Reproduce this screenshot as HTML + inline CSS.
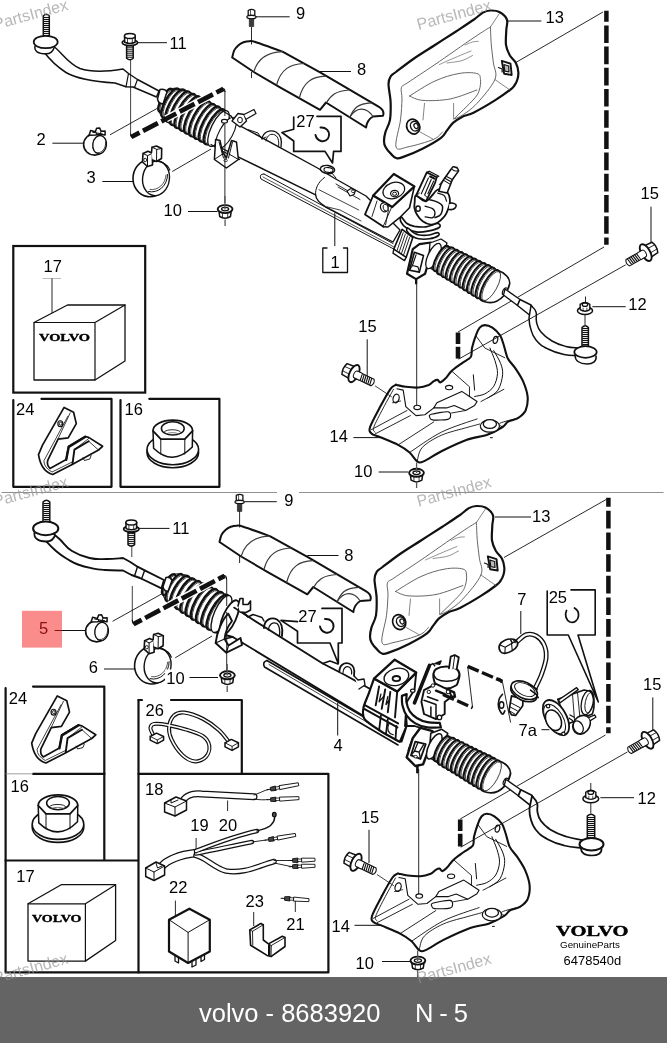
<!DOCTYPE html>
<html><head><meta charset="utf-8">
<style>
html,body{margin:0;padding:0;background:#fff;}
body{width:667px;height:1043px;overflow:hidden;position:relative;font-family:"Liberation Sans",sans-serif;}
#dia{will-change:transform;position:absolute;left:0;top:0;width:667px;height:977px;display:block;}
#bar{will-change:transform;position:absolute;left:0;top:977px;width:667px;height:66px;background:#646464;color:#fff;}
#bar span{position:absolute;top:21.7px;font-size:25.5px;line-height:28px;white-space:pre;letter-spacing:0;}
#wm{position:absolute;left:0;top:0;width:667px;height:1043px;display:block;pointer-events:none;}
svg text{font-family:"Liberation Sans",sans-serif;}
</style></head><body>
<svg id="dia" width="667" height="977" viewBox="0 0 667 977">
<!--DEFS-->
<!--TOP-->
<path d="M232.2,57.5 C232.5,56.3 233.2,52.4 234.2,50.4 C235.2,48.4 236.6,46.8 238.2,45.4 C239.8,44.0 241.6,43.0 243.5,42.3 C245.4,41.6 247.4,41.2 249.5,41.2 C251.6,41.2 250.5,40.5 256.0,42.2 C261.5,43.9 278.1,50.0 282.5,51.6 L321,72.8 L378.5,106.7 Q385,110.5 383,115.7 L373,116.5 Q367,120 366,127.5 L326,102.5 L320,109.8 L280,87.3 L253.8,72 L232.2,57.5Z" stroke="#111" stroke-width="2.0" fill="#fff" stroke-linecap="round" stroke-linejoin="round" />
<path d="M282.5,51.6 C268.5,52.1 257.8,57.6 253.8,72" stroke="#3a3a3a" stroke-width="1.2" fill="none" stroke-linecap="round" stroke-linejoin="round" />
<path d="M304,63.5 C290,64.0 280.6,69.5 276.6,85" stroke="#3a3a3a" stroke-width="1.2" fill="none" stroke-linecap="round" stroke-linejoin="round" />
<path d="M325.7,76.2 C311.7,76.7 303.3,82.2 299.3,98" stroke="#3a3a3a" stroke-width="1.2" fill="none" stroke-linecap="round" stroke-linejoin="round" />
<path d="M349.7,90 C335.7,90.5 330.3,96 326.3,103" stroke="#3a3a3a" stroke-width="1.2" fill="none" stroke-linecap="round" stroke-linejoin="round" />
<path d="M371.3,102.8 C357.3,103.3 353.7,108.8 349.7,117.3" stroke="#3a3a3a" stroke-width="1.2" fill="none" stroke-linecap="round" stroke-linejoin="round" />
<path d="M373,116.5 C366,106 356,107 349.7,117.3" stroke="#3a3a3a" stroke-width="1.1" fill="none" stroke-linecap="round" stroke-linejoin="round" />
<path d="M490.4,10.5 C493.2,10.4 496.7,10.5 499.4,12.0 C502.2,13.5 505.8,16.5 506.9,19.5 C508.1,22.5 506.5,25.7 506.3,30.0 C506.2,34.2 505.4,40.7 506.0,45.0 C506.6,49.2 508.3,52.5 509.9,55.5 C511.6,58.5 514.5,60.2 515.9,63.0 C517.3,65.7 518.1,69.2 518.3,72.0 C518.6,74.7 518.1,77.2 517.4,79.5 C516.8,81.7 515.7,83.7 514.4,85.5 C513.2,87.2 513.2,87.5 509.9,90.0 C506.7,92.5 500.9,96.7 494.9,100.4 C488.9,104.2 479.4,109.7 474.0,112.4 C468.5,115.2 465.5,115.2 462.0,116.9 C458.5,118.7 455.5,120.7 453.0,122.9 C450.5,125.2 449.0,127.9 447.0,130.4 C445.0,132.9 445.0,134.9 441.0,137.9 C437.0,140.9 429.5,145.2 423.0,148.4 C416.5,151.7 406.5,155.8 402.0,157.4 C397.5,159.0 397.7,158.5 396.0,158.0 C394.2,157.5 393.2,156.3 391.5,154.4 C389.7,152.6 386.7,149.2 385.5,146.9 C384.2,144.7 384.0,143.4 384.0,140.9 C384.0,138.4 384.5,135.4 385.5,131.9 C386.5,128.4 389.1,124.9 390.0,119.9 C390.8,114.9 390.8,107.9 390.6,101.9 C390.3,96.0 388.5,88.2 388.5,84.0 C388.5,79.7 389.3,78.5 390.6,76.5 C391.8,74.5 392.1,75.0 396.0,72.0 C399.9,69.0 407.5,63.0 414.0,58.5 C420.5,54.0 428.0,49.5 435.0,45.0 C442.0,40.5 449.5,35.7 456.0,31.5 C462.5,27.2 469.5,22.6 474.0,19.5 C478.4,16.3 480.2,14.1 482.9,12.6 C485.7,11.1 487.7,10.6 490.4,10.5Z" stroke="#111" stroke-width="2.2" fill="#fff" stroke-linecap="round" stroke-linejoin="round" />
<path d="M490.4,27.0 C490.6,30.0 490.8,39.0 491.3,45.0 C491.8,51.0 492.8,57.2 493.4,63.0 C494.0,68.7 497.7,72.7 494.9,79.5 C492.2,86.2 482.4,97.5 476.9,103.4 C471.5,109.4 465.9,112.8 462.0,115.4 C458.1,118.0 455.0,118.4 453.6,119.0" stroke="#555" stroke-width="0.9" fill="none" stroke-linecap="round" stroke-linejoin="round" />
<path d="M490.4,27.0 C487.7,28.7 483.2,31.2 474.0,37.5 C464.7,43.7 446.0,57.0 435.0,64.5 C424.0,72.0 413.6,78.6 408.0,82.5 C402.4,86.3 402.4,84.8 401.4,87.6 C400.4,90.3 402.1,93.6 402.0,99.0 C401.8,104.3 401.5,111.9 400.5,119.9 C399.5,127.9 394.7,142.4 396.0,146.9 C397.2,151.4 401.7,148.2 408.0,146.9 C414.2,145.7 427.7,141.9 433.5,139.4 C439.2,136.9 441.0,133.2 442.5,131.9" stroke="#555" stroke-width="0.9" fill="none" stroke-linecap="round" stroke-linejoin="round" />
<path d="M409.5,96.0 C413.7,93.5 426.7,84.7 435.0,81.0 C443.2,77.2 452.0,74.7 459.0,73.5 C466.0,72.2 473.4,72.5 476.9,73.5 C480.5,74.5 480.1,76.7 480.5,79.5 C480.9,82.2 480.4,86.7 479.3,90.0 C478.2,93.2 478.1,94.2 474.0,99.0 C469.8,103.7 457.7,115.2 454.5,118.4" stroke="#555" stroke-width="0.9" fill="none" stroke-linecap="round" stroke-linejoin="round" />
<path d="M409.5,96.0 C411.7,96.7 416.2,100.0 423.0,100.4 C429.7,100.9 441.0,100.7 450.0,99.0 C459.0,97.2 472.5,91.5 476.9,90.0" stroke="#555" stroke-width="0.9" fill="none" stroke-linecap="round" stroke-linejoin="round" />
<path d="M439.5,64.5 C441.7,63.5 447.7,60.7 453.0,58.5 C458.2,56.2 468.0,52.2 471.0,51.0" stroke="#777" stroke-width="0.8" fill="none" stroke-linecap="round" stroke-linejoin="round" />
<path d="M447.0,63.0 C449.5,62.6 457.7,61.8 462.0,60.6 C466.2,59.3 470.7,56.3 472.5,55.5" stroke="#777" stroke-width="0.8" fill="none" stroke-linecap="round" stroke-linejoin="round" />
<path d="M465.0,45.0 C466.2,44.5 470.2,42.6 472.5,42.0 C474.7,41.4 477.4,41.5 478.4,41.4" stroke="#777" stroke-width="0.8" fill="none" stroke-linecap="round" stroke-linejoin="round" />
<path d="M424.5,103.4 L423.0,119.9M453.6,103.4 L453.6,118.4M420.0,131.9 L433.5,139.4M494.9,79.5 L509.9,90.0M490.4,27.0 L499.4,13.5" stroke="#666" stroke-width="0.8" fill="none" stroke-linecap="round" stroke-linejoin="round" />
<path d="M501.8,60.9 L510.5,63.6 L511.7,75.0 L504.2,73.8Z" stroke="#111" stroke-width="1.9" fill="#fff" stroke-linecap="round" stroke-linejoin="round" />
<path d="M503.9,64.5 L508.7,66.0 L509.0,72.0 L504.8,71.1Z" stroke="#111" stroke-width="1.2" fill="#bbb" stroke-linecap="round" stroke-linejoin="round" />
<path d="M498.5,67.5 L502.1,69.0 L502.1,72.0" stroke="#111" stroke-width="1.2" fill="none" stroke-linecap="round" stroke-linejoin="round" />
<ellipse cx="413.2" cy="126.6" rx="6.4" ry="7.6" stroke="#111" stroke-width="1.7" fill="#fff" transform="rotate(-25 413.2 126.6)" />
<ellipse cx="414.8" cy="126.2" rx="4.2" ry="5" stroke="#111" stroke-width="1.4" fill="#fff" transform="rotate(-25 414.8 126.2)" />
<ellipse cx="416" cy="126" rx="2" ry="2.6" stroke="#111" stroke-width="1.2" fill="#fff" transform="rotate(-25 416 126)" />
<path d="M248.2,15.5 L248.2,10.5 Q251.5,8.3 254.8,10.5 L254.8,15.5Z" stroke="#111" stroke-width="1.3" fill="#fff" stroke-linecap="round" stroke-linejoin="round" />
<line x1="250.5" y1="9.8" x2="250.5" y2="15.5" stroke="#111" stroke-width="0.7" />
<ellipse cx="251.5" cy="17.1" rx="4.6" ry="1.7" stroke="#111" stroke-width="1.3" fill="#fff" />
<path d="M249.3,19.0 L249.3,26.5 L253.7,26.5 L253.7,19.0Z" stroke="#111" stroke-width="0.6" fill="#3a3a3a" stroke-linecap="round" stroke-linejoin="round" />
<line x1="251.5" y1="27" x2="251.5" y2="44.5" stroke="#111" stroke-width="0.9" />
<line x1="251.5" y1="72" x2="251.5" y2="78" stroke="#111" stroke-width="0.9" />
<line x1="256" y1="16.8" x2="289.7" y2="16.8" stroke="#111" stroke-width="1" />
<text x="296" y="18.9" font-size="16.5" text-anchor="start" fill="#000" >9</text>
<line x1="319.7" y1="71.5" x2="351" y2="71.5" stroke="#111" stroke-width="1" />
<text x="357" y="74.6" font-size="16.5" text-anchor="start" fill="#000" >8</text>
<line x1="507" y1="21" x2="541.4" y2="21" stroke="#111" stroke-width="1" />
<text x="545.5" y="22.7" font-size="16.5" text-anchor="start" fill="#000" >13</text>
<line x1="516" y1="62.4" x2="603" y2="12" stroke="#111" stroke-width="0.9" />
<line x1="606.4" y1="10.8" x2="606.4" y2="244.8" stroke="#111" stroke-width="4.5" stroke-dasharray="17.6 3.6" stroke-dashoffset="6.6"/>
<line x1="604" y1="247" x2="458" y2="332" stroke="#111" stroke-width="0.9" />
<path d="M43.3,36 L43.3,16 Q46.3,12.5 49.3,16 L49.3,36 Z" stroke="#111" stroke-width="1.5" fill="#fff" stroke-linecap="round" stroke-linejoin="round" />
<line x1="43.599999999999994" y1="17.5" x2="49.0" y2="17.5" stroke="#111" stroke-width="1.1" />
<line x1="43.599999999999994" y1="19.5" x2="49.0" y2="19.5" stroke="#111" stroke-width="1.1" />
<line x1="43.599999999999994" y1="21.5" x2="49.0" y2="21.5" stroke="#111" stroke-width="1.1" />
<line x1="43.599999999999994" y1="23.5" x2="49.0" y2="23.5" stroke="#111" stroke-width="1.1" />
<line x1="43.599999999999994" y1="25.5" x2="49.0" y2="25.5" stroke="#111" stroke-width="1.1" />
<line x1="43.599999999999994" y1="27.5" x2="49.0" y2="27.5" stroke="#111" stroke-width="1.1" />
<line x1="43.599999999999994" y1="29.5" x2="49.0" y2="29.5" stroke="#111" stroke-width="1.1" />
<line x1="43.599999999999994" y1="31.5" x2="49.0" y2="31.5" stroke="#111" stroke-width="1.1" />
<line x1="43.599999999999994" y1="33.5" x2="49.0" y2="33.5" stroke="#111" stroke-width="1.1" />
<line x1="43.599999999999994" y1="35.5" x2="49.0" y2="35.5" stroke="#111" stroke-width="1.1" />
<path d="M52,45 C61,51 67,63 80,68.5 C92,72.5 108,71.5 123,69 L128.5,73.5 L137.5,79.5 L159,91 L156.5,97 L133,87 L126,86.8 L115,83 C96,81.8 78,79.5 66,72.5 C56,66 50,60 44,52 Z" stroke="#111" stroke-width="1.5" fill="#fff" stroke-linecap="round" stroke-linejoin="round" />
<path d="M128.5,73.5 L126,86.8 M137.5,79.5 L134.5,87.5" stroke="#111" stroke-width="1.2" fill="none" stroke-linecap="round" stroke-linejoin="round" />
<path d="M35,46 C34,51 38,53.8 46,53.8 C50,53.8 53,51 54,48" stroke="#111" stroke-width="1.5" fill="#fff" stroke-linecap="round" stroke-linejoin="round" />
<ellipse cx="45.7" cy="42" rx="12" ry="6.2" stroke="#111" stroke-width="1.7" fill="#fff" />
<ellipse cx="129.9" cy="42.6" rx="7.7" ry="3.0" stroke="#111" stroke-width="1.7" fill="#fff" />
<path d="M124.5,36.1 L124.7,42.2 Q129.9,44.6 135.1,42.2 L135.3,36.1Z" stroke="#111" stroke-width="1.5" fill="#fff" stroke-linecap="round" stroke-linejoin="round" />
<ellipse cx="129.9" cy="36.1" rx="5.4" ry="2.5" stroke="#111" stroke-width="1.5" fill="#fff" />
<line x1="127.5" y1="38.6" x2="127.5" y2="43.2" stroke="#111" stroke-width="0.8" />
<line x1="132.3" y1="38.6" x2="132.3" y2="43.2" stroke="#111" stroke-width="0.8" />
<path d="M126.60000000000001,45.800000000000004 L126.60000000000001,58.2 Q129.9,61.2 133.20000000000002,58.2 L133.20000000000002,45.800000000000004Z" stroke="#111" stroke-width="1.5" fill="#fff" stroke-linecap="round" stroke-linejoin="round" />
<line x1="126.7" y1="47.2" x2="133.1" y2="47.2" stroke="#111" stroke-width="1.0" />
<line x1="126.7" y1="49.2" x2="133.1" y2="49.2" stroke="#111" stroke-width="1.0" />
<line x1="126.7" y1="51.2" x2="133.1" y2="51.2" stroke="#111" stroke-width="1.0" />
<line x1="126.7" y1="53.2" x2="133.1" y2="53.2" stroke="#111" stroke-width="1.0" />
<line x1="126.7" y1="55.2" x2="133.1" y2="55.2" stroke="#111" stroke-width="1.0" />
<line x1="126.7" y1="57.2" x2="133.1" y2="57.2" stroke="#111" stroke-width="1.0" />
<line x1="130.6" y1="59" x2="130.6" y2="134" stroke="#111" stroke-width="0.8" />
<line x1="138" y1="42.7" x2="167" y2="42.7" stroke="#111" stroke-width="1" />
<text x="169.5" y="48.8" font-size="16.5" text-anchor="start" fill="#000" >11</text>
<path d="M264,174 Q258.5,174 261,179 L395.6,250" stroke="#111" stroke-width="1.0" fill="none" stroke-linecap="round" stroke-linejoin="round" />
<path d="M264,174 L393,243.5" stroke="#111" stroke-width="1.0" fill="none" stroke-linecap="round" stroke-linejoin="round" />
<path d="M263,177 L394,247" stroke="#111" stroke-width="0.7" fill="none" stroke-linecap="round" stroke-linejoin="round" />
<path d="M222,112 L236,123.6 L317.5,168 L334,178 L366,196 L400,230 L393,242 L325.6,206.8 Q316,201 315.6,194.8 L237.6,156.6 L212,143Z" stroke="#111" stroke-width="1.4" fill="#fff" stroke-linecap="round" stroke-linejoin="round" />
<path d="M167.7,90.2 L169.8,89.5 L171.9,88.9 L174.0,88.2 L175.7,88.3 L177.3,88.6 L178.9,88.9 L180.5,89.1 L182.1,89.4 L183.7,89.7 L185.3,90.0 L186.6,90.6 L188.0,91.3 L189.4,91.9 L190.8,92.6 L192.2,93.3 L193.6,93.9 L194.9,94.6 L196.3,95.2 L197.7,95.9 L199.1,96.6 L200.5,97.2 L201.9,97.9 L203.2,98.6 L204.6,99.2 L206.0,99.9 L207.3,100.7 L208.7,101.4 L210.0,102.1 L211.4,102.8 L212.7,103.6 L214.1,104.3 L215.4,105.0 L216.8,105.7 L218.1,106.5 L219.5,107.2 L220.8,107.9 L222.2,108.6 L223.5,109.4 L224.9,110.1 L226.2,110.8 L207.8,145.2 L206.4,144.5 L205.1,143.7 L203.7,143.0 L202.4,142.3 L201.0,141.6 L199.7,140.8 L198.3,140.1 L197.0,139.4 L195.6,138.7 L194.3,137.9 L192.9,137.2 L191.6,136.5 L190.2,135.8 L188.9,135.0 L187.5,134.3 L186.2,133.6 L184.9,132.8 L183.5,132.0 L182.2,131.2 L180.9,130.4 L179.6,129.6 L178.3,128.9 L177.0,128.1 L175.6,127.3 L174.3,126.5 L173.0,125.7 L171.7,124.9 L170.4,124.1 L169.1,123.3 L167.7,122.5 L166.6,121.4 L165.5,120.2 L164.4,119.0 L163.3,117.8 L162.2,116.7 L161.1,115.5 L160.1,114.1 L159.5,112.0 L158.9,109.9 L158.3,107.8Z" stroke="#111" stroke-width="1.0" fill="#fff" stroke-linecap="round" stroke-linejoin="round" />
<g transform="rotate(28.2 165.5 100.3)"><ellipse cx="165.5" cy="100.3" rx="4.4" ry="12.8" stroke="#111" stroke-width="2.4" fill="#fff"/><ellipse cx="167.1" cy="100.3" rx="4.4" ry="12.0" stroke="#111" stroke-width="0.7" fill="#fff"/></g>
<g transform="rotate(28.2 170.4 103.0)"><ellipse cx="170.4" cy="103.0" rx="5.5" ry="16.2" stroke="#111" stroke-width="2.4" fill="#fff"/><ellipse cx="172.0" cy="103.0" rx="5.5" ry="15.4" stroke="#111" stroke-width="0.7" fill="#fff"/></g>
<g transform="rotate(28.2 175.3 105.6)"><ellipse cx="175.3" cy="105.6" rx="6.1" ry="18.0" stroke="#111" stroke-width="2.4" fill="#fff"/><ellipse cx="176.9" cy="105.6" rx="6.1" ry="17.2" stroke="#111" stroke-width="0.7" fill="#fff"/></g>
<g transform="rotate(28.2 180.2 108.2)"><ellipse cx="180.2" cy="108.2" rx="6.4" ry="18.7" stroke="#111" stroke-width="2.4" fill="#fff"/><ellipse cx="181.8" cy="108.2" rx="6.4" ry="17.9" stroke="#111" stroke-width="0.7" fill="#fff"/></g>
<g transform="rotate(28.2 185.1 110.9)"><ellipse cx="185.1" cy="110.9" rx="6.4" ry="19.0" stroke="#111" stroke-width="2.4" fill="#fff"/><ellipse cx="186.7" cy="110.9" rx="6.4" ry="18.2" stroke="#111" stroke-width="0.7" fill="#fff"/></g>
<g transform="rotate(28.2 190.0 113.5)"><ellipse cx="190.0" cy="113.5" rx="6.5" ry="19.2" stroke="#111" stroke-width="2.4" fill="#fff"/><ellipse cx="191.6" cy="113.5" rx="6.5" ry="18.4" stroke="#111" stroke-width="0.7" fill="#fff"/></g>
<g transform="rotate(28.2 194.9 116.1)"><ellipse cx="194.9" cy="116.1" rx="6.6" ry="19.5" stroke="#111" stroke-width="2.4" fill="#fff"/><ellipse cx="196.5" cy="116.1" rx="6.6" ry="18.7" stroke="#111" stroke-width="0.7" fill="#fff"/></g>
<g transform="rotate(28.2 199.8 118.8)"><ellipse cx="199.8" cy="118.8" rx="6.6" ry="19.5" stroke="#111" stroke-width="2.4" fill="#fff"/><ellipse cx="201.4" cy="118.8" rx="6.6" ry="18.7" stroke="#111" stroke-width="0.7" fill="#fff"/></g>
<g transform="rotate(28.2 204.7 121.4)"><ellipse cx="204.7" cy="121.4" rx="6.6" ry="19.5" stroke="#111" stroke-width="2.4" fill="#fff"/><ellipse cx="206.3" cy="121.4" rx="6.6" ry="18.7" stroke="#111" stroke-width="0.7" fill="#fff"/></g>
<g transform="rotate(28.2 209.6 124.0)"><ellipse cx="209.6" cy="124.0" rx="6.6" ry="19.5" stroke="#111" stroke-width="2.4" fill="#fff"/><ellipse cx="211.2" cy="124.0" rx="6.6" ry="18.7" stroke="#111" stroke-width="0.7" fill="#fff"/></g>
<g transform="rotate(28.2 214.5 126.7)"><ellipse cx="214.5" cy="126.7" rx="6.6" ry="19.5" stroke="#111" stroke-width="2.4" fill="#fff"/><ellipse cx="216.1" cy="126.7" rx="6.6" ry="18.7" stroke="#111" stroke-width="0.7" fill="#fff"/></g>
<path d="M160,89.5 Q165,88.5 167,92 L163,104 Q158.5,104 157.5,99Z" stroke="#111" stroke-width="1.5" fill="#fff" stroke-linecap="round" stroke-linejoin="round" />
<ellipse cx="218.5" cy="128.5" rx="7.2" ry="19.6" stroke="#111" stroke-width="1.3" fill="#fff" transform="rotate(26 218.5 128.5)" />
<path d="M222,110.5 L231,116 M211,144.5 L222,151" stroke="#111" stroke-width="1.2" fill="none" stroke-linecap="round" stroke-linejoin="round" />
<ellipse cx="226" cy="133" rx="6.8" ry="17.6" stroke="#111" stroke-width="1.1" fill="#fff" transform="rotate(29 226 133)" />
<path d="M231,116 L236,123.6 M222,151 L239.6,159.5" stroke="#111" stroke-width="1.2" fill="none" stroke-linecap="round" stroke-linejoin="round" />
<path d="M215.6,139.5 L214.4,159.5 L226.4,168 L238.4,159.5 L236.5,142 L231.5,140.5 L228,152 L226.4,158 L222.5,152 L220,140.5Z" stroke="#111" stroke-width="1.5" fill="#fff" stroke-linecap="round" stroke-linejoin="round" />
<path d="M214.4,159.5 L222.5,154 M238.4,159.5 L229,154 M219,142 L223.5,158 M232.5,142 L228.5,158" stroke="#111" stroke-width="1.0" fill="none" stroke-linecap="round" stroke-linejoin="round" />
<ellipse cx="225.6" cy="160.5" rx="1.7" ry="1.2" stroke="#111" stroke-width="0.8" fill="#fff" />
<ellipse cx="224.5" cy="121.2" rx="3" ry="1.8" stroke="#111" stroke-width="1.2" fill="#fff" />
<path d="M232,121 L238,113.5 L244,114.5 L246.5,121 L240,127 Z" stroke="#111" stroke-width="1.3" fill="#fff" stroke-linecap="round" stroke-linejoin="round" />
<ellipse cx="240" cy="120" rx="2.4" ry="2.8" stroke="#111" stroke-width="1.0" fill="#fff" />
<path d="M244,114.5 L254,109.5 L256,113.5 L246.5,119" stroke="#111" stroke-width="1.2" fill="#fff" stroke-linecap="round" stroke-linejoin="round" />
<path d="M262,139 C263,132 270,129 276,132 C281,135 282,141 281,147" stroke="#111" stroke-width="1.3" fill="none" stroke-linecap="round" stroke-linejoin="round" />
<path d="M266,141 C267,135 271,133 275,135 C279,137 279,143 278.5,147" stroke="#111" stroke-width="1.0" fill="none" stroke-linecap="round" stroke-linejoin="round" />
<path d="M248,129.6 L258,133 L262,139 L266,137" stroke="#111" stroke-width="1.0" fill="none" stroke-linecap="round" stroke-linejoin="round" />
<path d="M324.5,177.5 C318,182 315,189 315.6,194.8" stroke="#111" stroke-width="1.0" fill="none" stroke-linecap="round" stroke-linejoin="round" />
<path d="M319,189.7 L358.7,210" stroke="#111" stroke-width="0.8" fill="none" stroke-linecap="round" stroke-linejoin="round" />
<path d="M326.8,206.8 L340,210 L361,221" stroke="#111" stroke-width="0.8" fill="none" stroke-linecap="round" stroke-linejoin="round" />
<ellipse cx="327.5" cy="169.5" rx="7.2" ry="4" stroke="#111" stroke-width="1.4" fill="#fff" transform="rotate(8 327.5 169.5)" />
<ellipse cx="328.5" cy="170" rx="4.6" ry="2.4" stroke="#111" stroke-width="1.1" fill="#fff" transform="rotate(8 328.5 170)" />
<path d="M331,172 L336,178" stroke="#111" stroke-width="1.0" fill="none" stroke-linecap="round" stroke-linejoin="round" />
<path d="M336,184 L349,191.5 M338,187 L360,199.5" stroke="#111" stroke-width="0.9" fill="none" stroke-linecap="round" stroke-linejoin="round" />
<path d="M347,191 L351,188.5 L355.5,190.5 L354,194.5 L350,196Z" stroke="#111" stroke-width="1.2" fill="#fff" stroke-linecap="round" stroke-linejoin="round" />
<ellipse cx="353" cy="191.3" rx="1.6" ry="1.3" stroke="#111" stroke-width="0.8" fill="#fff" />
<path d="M373.2,195.5 L365,214.4 L383.5,226.8 L392.2,207Z" stroke="#111" stroke-width="1.8" fill="#fff" stroke-linecap="round" stroke-linejoin="round" />
<path d="M392.2,207 L414.4,186.4 L409.5,207.8 L399.6,217.7 L388,227 L383.5,226.8" stroke="#111" stroke-width="1.6" fill="#fff" stroke-linecap="round" stroke-linejoin="round" />
<path d="M373.2,195.5 L393.8,174 L414.4,186.4 L392.2,207Z" stroke="#111" stroke-width="2.2" fill="#fff" stroke-linecap="round" stroke-linejoin="round" />
<ellipse cx="393.8" cy="190.5" rx="11.2" ry="7.8" stroke="#111" stroke-width="1.2" fill="#fff" transform="rotate(-20 393.8 190.5)" />
<ellipse cx="394.6" cy="193.6" rx="4" ry="3.2" stroke="#111" stroke-width="1.2" fill="#fff" />
<ellipse cx="394.6" cy="193.8" rx="2" ry="1.6" stroke="#111" stroke-width="1.0" fill="#fff" />
<ellipse cx="384.3" cy="207.2" rx="3.8" ry="4.6" stroke="#111" stroke-width="1.3" fill="#fff" transform="rotate(-15 384.3 207.2)" />
<ellipse cx="385.6" cy="207.6" rx="2.4" ry="3.4" stroke="#111" stroke-width="0.9" fill="#fff" transform="rotate(-15 385.6 207.6)" />
<path d="M377,201 L372,216.5 M388.5,210 L385.5,225" stroke="#111" stroke-width="0.9" fill="none" stroke-linecap="round" stroke-linejoin="round" />
<path d="M402.1,229.3 L412.8,237.5 L406.2,257.3 L393.8,249.1Z" stroke="#111" stroke-width="1.6" fill="#fff" stroke-linecap="round" stroke-linejoin="round" />
<path d="M403.2,232.6 L397.1,250.4" stroke="#111" stroke-width="0.9" fill="none" stroke-linecap="round" stroke-linejoin="round" />
<path d="M405.3,234.2 L399.2,252.0" stroke="#111" stroke-width="0.9" fill="none" stroke-linecap="round" stroke-linejoin="round" />
<path d="M407.5,235.9 L401.4,253.7" stroke="#111" stroke-width="0.9" fill="none" stroke-linecap="round" stroke-linejoin="round" />
<path d="M409.6,237.5 L403.5,255.3" stroke="#111" stroke-width="0.9" fill="none" stroke-linecap="round" stroke-linejoin="round" />
<path d="M393.8,249.1 L393.0,253.2 L404.5,260.6 L406.2,257.3" stroke="#111" stroke-width="1.4" fill="none" stroke-linecap="round" stroke-linejoin="round" />
<path d="M401.2,216.9 C402.2,217.2 404.8,221.9 407.0,223.5 C409.2,225.1 411.3,225.7 414.4,226.3 C417.6,226.8 422.1,227.3 426.0,226.8 C429.8,226.3 435.3,223.4 437.5,223.5 C439.8,223.6 441.1,226.0 439.5,227.3 C437.8,228.6 431.5,230.5 427.6,231.2 C423.7,232.0 419.5,232.4 416.1,231.9 C412.6,231.4 409.5,230.1 407.0,228.4 C404.5,226.8 401.9,223.8 400.9,221.8 C399.9,219.9 400.2,216.6 401.2,216.9Z" stroke="#111" stroke-width="1.7" fill="#fff" stroke-linecap="round" stroke-linejoin="round" />
<path d="M407.8,227.9 C408.9,228.2 411.7,231.4 413.6,232.6 C415.5,233.7 416.8,234.6 419.4,235.0 C422.0,235.4 426.2,235.4 429.3,235.0 C432.3,234.6 436.0,232.5 437.5,232.6 C439.0,232.6 439.9,234.5 438.5,235.5 C437.1,236.6 432.6,238.3 429.3,238.8 C425.9,239.4 421.4,239.3 418.5,238.8 C415.7,238.3 413.9,237.1 411.9,235.9 C410.0,234.6 407.7,232.6 407.0,231.2 C406.3,229.9 406.7,227.7 407.8,227.9Z" stroke="#111" stroke-width="1.6" fill="#fff" stroke-linecap="round" stroke-linejoin="round" />
<path d="M416.1,195.5 C414.2,195.6 415.0,200.0 414.7,202.1 C414.5,204.1 414.1,205.8 414.4,207.8 C414.8,209.9 415.5,212.2 416.9,214.4 C418.3,216.7 420.3,219.6 422.7,221.3 C425.0,223.0 428.4,224.4 430.9,224.6 C433.4,224.9 435.4,223.8 437.5,222.7 C439.6,221.5 441.8,219.4 443.3,217.7 C444.8,216.1 445.5,215.2 446.6,212.8 C447.7,210.3 449.5,205.8 449.9,202.9 C450.3,200.0 449.7,197.4 449.1,195.5 C448.4,193.5 447.7,192.0 445.8,191.0 C443.8,190.0 440.8,188.0 437.5,189.7 C434.2,191.4 429.5,200.3 426.0,201.2 C422.4,202.2 417.9,195.3 416.1,195.5Z" stroke="#111" stroke-width="1.8" fill="#fff" stroke-linecap="round" stroke-linejoin="round" />
<path d="M429.3,199.6 C430.6,200.0 435.3,201.0 437.5,202.1 C439.7,203.2 441.9,204.1 442.5,206.2 C443.0,208.2 442.0,212.5 440.8,214.4 C439.6,216.3 436.0,217.2 435.0,217.7" stroke="#111" stroke-width="1.5" fill="none" stroke-linecap="round" stroke-linejoin="round" />
<path d="M425.1,206.2 C426.4,206.6 430.9,207.5 432.6,208.6 C434.2,209.7 435.0,211.3 435.0,212.8 C435.0,214.3 434.2,217.0 432.6,217.7 C430.9,218.4 426.4,217.0 425.1,216.9" stroke="#111" stroke-width="1.3" fill="none" stroke-linecap="round" stroke-linejoin="round" />
<path d="M437.5,193.0 C438.6,193.4 442.6,194.1 444.1,195.5 C445.6,196.8 446.2,200.3 446.6,201.2" stroke="#111" stroke-width="1.2" fill="none" stroke-linecap="round" stroke-linejoin="round" />
<ellipse cx="418.0474934036939" cy="208.64775725593668" rx="2.2" ry="2.6" stroke="#111" stroke-width="1.4" fill="#fff" />
<path d="M449.5,203.2 C450.1,203.2 452.1,202.9 453.2,203.2 C454.2,203.5 455.6,204.1 456.0,204.9 C456.3,205.6 455.9,207.1 455.3,207.8 C454.7,208.6 453.4,209.2 452.3,209.5 C451.2,209.7 449.3,209.5 448.7,209.5" stroke="#111" stroke-width="1.6" fill="#fff" stroke-linecap="round" stroke-linejoin="round" />
<path d="M426.8,172.4 L436.7,177.3 L435.0,183.1 L426.0,201.2 L416.1,195.5Z" stroke="#111" stroke-width="1.8" fill="#fff" stroke-linecap="round" stroke-linejoin="round" />
<path d="M426.8,172.4 L429.3,171.2 L438.8,176.2 L436.7,177.3" stroke="#111" stroke-width="1.2" fill="none" stroke-linecap="round" stroke-linejoin="round" />
<path d="M428.4,178.1 L421.3,193.8M431.2,179.5 L424.6,195.0M433.7,181.1 L427.9,193.8" stroke="#111" stroke-width="1.1" fill="none" stroke-linecap="round" stroke-linejoin="round" />
<path d="M430.1,176.5 L434.5,178.6" stroke="#111" stroke-width="2.0" fill="none" stroke-linecap="round" stroke-linejoin="round" />
<path d="M416.9,195.5 L419.4,193.0M425.1,195.5 L426.8,197.1" stroke="#111" stroke-width="1.0" fill="none" stroke-linecap="round" stroke-linejoin="round" />
<path d="M439.2,184.7 L443.3,180.1 L445.8,176.5 L450.7,169.6 " stroke="#111" stroke-width="1.0" fill="none" stroke-linecap="round" stroke-linejoin="round" />
<path d="M438.8,191.3 L440.8,184.7 L443.3,180.1 L446.1,176.2 L451.0,169.2 L453.2,166.9 L457.0,167.6 L458.6,170.9 L452.3,179.8 L450.4,184.7 L447.1,193.0Z" stroke="#111" stroke-width="1.6" fill="#fff" stroke-linecap="round" stroke-linejoin="round" />
<path d="M443.3,180.1 L450.4,184.4M446.1,176.2 L452.7,179.8M444.4,178.1 L451.5,182.1" stroke="#111" stroke-width="1.1" fill="none" stroke-linecap="round" stroke-linejoin="round" />
<ellipse cx="454.98680738786277" cy="169.06992084432719" rx="3.2" ry="1.7" stroke="#111" stroke-width="1.0" fill="#fff" transform="rotate(20 454.98680738786277 169.06992084432719)" />
<path d="M412.8,249.1 L419.4,244.1 L430.9,242.5 L431.2,252.3 L425.1,273.8 L416.1,279.1 L407.0,273.8Z" stroke="#111" stroke-width="2.2" fill="#fff" stroke-linecap="round" stroke-linejoin="round" />
<path d="M414.4,252.3 L423.5,255.6 L419.4,272.1 L409.5,270.2Z" stroke="#111" stroke-width="1.6" fill="#fff" stroke-linecap="round" stroke-linejoin="round" />
<path d="M409.5,270.2 L412.4,265.5 L418.0,266.9 L419.4,272.1M412.4,265.5 L416.1,254.8" stroke="#111" stroke-width="1.1" fill="none" stroke-linecap="round" stroke-linejoin="round" />
<path d="M416.1,279.7 L416.1,283.4" stroke="#111" stroke-width="2.2" fill="none" stroke-linecap="round" stroke-linejoin="round" />
<path d="M430,243 L441,239 L447,243 L437,272 L428,267Z" stroke="#111" stroke-width="1.3" fill="#fff" stroke-linecap="round" stroke-linejoin="round" />
<ellipse cx="433.5" cy="256" rx="5.4" ry="13.8" stroke="#111" stroke-width="1.3" fill="#fff" transform="rotate(26 433.5 256)" />
<path d="M498,270.5 C505,272.5 510.5,278.5 509.6,284 C508.5,289.5 506,293 503.5,296 C499,301 492,304.5 483,301.2Z" stroke="#111" stroke-width="1.6" fill="#fff" stroke-linecap="round" stroke-linejoin="round" />
<path d="M445.5,245.5 L447.0,245.9 L448.5,246.3 L450.0,246.7 L451.5,247.1 L452.9,247.8 L454.2,248.4 L455.6,249.1 L457.0,249.8 L458.3,250.5 L459.7,251.1 L461.0,251.8 L462.4,252.5 L463.7,253.2 L465.1,253.8 L466.4,254.5 L467.8,255.2 L469.2,255.9 L470.5,256.5 L471.9,257.2 L473.2,257.9 L474.6,258.5 L476.0,259.2 L477.3,259.8 L478.7,260.5 L480.1,261.1 L481.4,261.8 L482.8,262.4 L484.2,263.1 L485.5,263.7 L486.9,264.4 L488.3,265.0 L489.7,265.7 L491.0,266.3 L492.4,267.0 L493.7,267.7 L495.0,268.5 L496.3,269.3 L497.6,270.1 L498.9,270.8 L500.2,271.6 L483.8,301.4 L482.4,300.7 L481.1,300.0 L479.7,299.3 L478.4,298.6 L477.1,298.0 L475.7,297.3 L474.4,296.5 L473.1,295.6 L471.9,294.8 L470.6,294.0 L469.3,293.2 L468.0,292.4 L466.7,291.6 L465.5,290.8 L464.2,290.0 L462.9,289.2 L461.6,288.3 L460.3,287.5 L459.1,286.7 L457.8,285.9 L456.5,285.1 L455.2,284.3 L453.9,283.6 L452.6,282.8 L451.3,282.0 L450.0,281.2 L448.7,280.4 L447.4,279.6 L446.1,278.9 L444.8,278.1 L443.5,277.3 L442.2,276.5 L440.9,275.7 L439.7,274.9 L438.4,274.1 L437.1,273.4 L435.9,272.3 L434.8,271.2 L433.6,270.2 L432.5,269.1Z" stroke="#111" stroke-width="1.0" fill="#fff" stroke-linecap="round" stroke-linejoin="round" />
<g transform="rotate(28.9 441.2 258.5)"><ellipse cx="441.2" cy="258.5" rx="4.8" ry="14.1" stroke="#111" stroke-width="2.1" fill="#fff"/><ellipse cx="442.8" cy="258.5" rx="4.8" ry="13.3" stroke="#111" stroke-width="0.7" fill="#fff"/></g>
<g transform="rotate(28.9 445.6 260.9)"><ellipse cx="445.6" cy="260.9" rx="5.1" ry="15.1" stroke="#111" stroke-width="2.1" fill="#fff"/><ellipse cx="447.2" cy="260.9" rx="5.1" ry="14.3" stroke="#111" stroke-width="0.7" fill="#fff"/></g>
<g transform="rotate(28.9 450.0 263.4)"><ellipse cx="450.0" cy="263.4" rx="5.2" ry="15.3" stroke="#111" stroke-width="2.1" fill="#fff"/><ellipse cx="451.6" cy="263.4" rx="5.2" ry="14.5" stroke="#111" stroke-width="0.7" fill="#fff"/></g>
<g transform="rotate(28.9 454.5 265.8)"><ellipse cx="454.5" cy="265.8" rx="5.3" ry="15.5" stroke="#111" stroke-width="2.1" fill="#fff"/><ellipse cx="456.1" cy="265.8" rx="5.3" ry="14.7" stroke="#111" stroke-width="0.7" fill="#fff"/></g>
<g transform="rotate(28.9 458.9 268.2)"><ellipse cx="458.9" cy="268.2" rx="5.3" ry="15.7" stroke="#111" stroke-width="2.1" fill="#fff"/><ellipse cx="460.5" cy="268.2" rx="5.3" ry="14.9" stroke="#111" stroke-width="0.7" fill="#fff"/></g>
<g transform="rotate(28.9 463.3 270.7)"><ellipse cx="463.3" cy="270.7" rx="5.4" ry="15.9" stroke="#111" stroke-width="2.1" fill="#fff"/><ellipse cx="464.9" cy="270.7" rx="5.4" ry="15.1" stroke="#111" stroke-width="0.7" fill="#fff"/></g>
<g transform="rotate(28.9 467.7 273.1)"><ellipse cx="467.7" cy="273.1" rx="5.5" ry="16.2" stroke="#111" stroke-width="2.1" fill="#fff"/><ellipse cx="469.3" cy="273.1" rx="5.5" ry="15.4" stroke="#111" stroke-width="0.7" fill="#fff"/></g>
<g transform="rotate(28.9 472.1 275.6)"><ellipse cx="472.1" cy="275.6" rx="5.6" ry="16.5" stroke="#111" stroke-width="2.1" fill="#fff"/><ellipse cx="473.7" cy="275.6" rx="5.6" ry="15.7" stroke="#111" stroke-width="0.7" fill="#fff"/></g>
<g transform="rotate(28.9 476.5 278.0)"><ellipse cx="476.5" cy="278.0" rx="5.7" ry="16.8" stroke="#111" stroke-width="2.1" fill="#fff"/><ellipse cx="478.1" cy="278.0" rx="5.7" ry="16.0" stroke="#111" stroke-width="0.7" fill="#fff"/></g>
<g transform="rotate(28.9 481.0 280.4)"><ellipse cx="481.0" cy="280.4" rx="5.8" ry="17.1" stroke="#111" stroke-width="2.1" fill="#fff"/><ellipse cx="482.6" cy="280.4" rx="5.8" ry="16.3" stroke="#111" stroke-width="0.7" fill="#fff"/></g>
<g transform="rotate(28.9 485.4 282.9)"><ellipse cx="485.4" cy="282.9" rx="5.9" ry="17.2" stroke="#111" stroke-width="2.1" fill="#fff"/><ellipse cx="487.0" cy="282.9" rx="5.9" ry="16.4" stroke="#111" stroke-width="0.7" fill="#fff"/></g>
<g transform="rotate(28.9 489.8 285.3)"><ellipse cx="489.8" cy="285.3" rx="5.8" ry="17.1" stroke="#111" stroke-width="2.1" fill="#fff"/><ellipse cx="491.4" cy="285.3" rx="5.8" ry="16.3" stroke="#111" stroke-width="0.7" fill="#fff"/></g>
<ellipse cx="505" cy="291.5" rx="2.2" ry="3.8" stroke="#111" stroke-width="1.2" fill="#fff" transform="rotate(26 505 291.5)" />
<path d="M505,289 L520,299.5 L517.5,305.5 L503.5,295Z" stroke="#111" stroke-width="1.3" fill="#fff" stroke-linecap="round" stroke-linejoin="round" />
<path d="M520,299.5 L531,305 Q533.5,308 532,312 L529.5,315 L517.5,305.5Z" stroke="#111" stroke-width="1.5" fill="#fff" stroke-linecap="round" stroke-linejoin="round" />
<path d="M531.0,305.5 C532.2,307.0 534.7,308.1 536.0,312.0 C537.3,315.9 535.3,317.3 536.5,322.0 C537.7,326.7 537.4,327.6 541.0,332.0 C544.6,336.4 546.2,337.6 552.0,341.0 C557.8,344.4 559.9,344.9 566.0,346.5 C572.1,348.1 575.2,347.6 578.0,348.0 L578.0,355.5 C574.7,355.3 571.0,356.0 564.0,354.5 C557.0,353.0 554.5,352.4 548.0,349.0 C541.5,345.6 540.1,344.9 536.0,340.0 C531.9,335.1 532.1,333.1 530.5,328.0 C528.9,322.9 529.4,320.3 529.0,318.0Z" stroke="#111" stroke-width="1.5" fill="#fff" stroke-linecap="round" stroke-linejoin="round" />
<path d="M575,355 C575,361 580,364 587,364 C593,364 597,361 596,356" stroke="#111" stroke-width="1.5" fill="#fff" stroke-linecap="round" stroke-linejoin="round" />
<ellipse cx="585.5" cy="352" rx="11.2" ry="5.8" stroke="#111" stroke-width="1.7" fill="#fff" />
<path d="M582,346 L582,327.5 Q585.2,324.0 588.4,327.5 L588.4,346 Z" stroke="#111" stroke-width="1.5" fill="#fff" stroke-linecap="round" stroke-linejoin="round" />
<line x1="582.3" y1="328.5" x2="588.1" y2="328.5" stroke="#111" stroke-width="1.1" />
<line x1="582.3" y1="330.5" x2="588.1" y2="330.5" stroke="#111" stroke-width="1.1" />
<line x1="582.3" y1="332.5" x2="588.1" y2="332.5" stroke="#111" stroke-width="1.1" />
<line x1="582.3" y1="334.5" x2="588.1" y2="334.5" stroke="#111" stroke-width="1.1" />
<line x1="582.3" y1="336.5" x2="588.1" y2="336.5" stroke="#111" stroke-width="1.1" />
<line x1="582.3" y1="338.5" x2="588.1" y2="338.5" stroke="#111" stroke-width="1.1" />
<line x1="582.3" y1="340.5" x2="588.1" y2="340.5" stroke="#111" stroke-width="1.1" />
<line x1="582.3" y1="342.5" x2="588.1" y2="342.5" stroke="#111" stroke-width="1.1" />
<line x1="582.3" y1="344.5" x2="588.1" y2="344.5" stroke="#111" stroke-width="1.1" />
<line x1="585" y1="313" x2="585" y2="325" stroke="#111" stroke-width="0.9" />
<ellipse cx="585" cy="310.65" rx="7.5600000000000005" ry="3.7800000000000002" stroke="#111" stroke-width="1.5" fill="#fff" />
<path d="M580.17,309.6 L580.17,304.35 Q585,300.675 589.83,304.35 L589.83,309.6 Q585,312.75 580.17,309.6Z" stroke="#111" stroke-width="1.4" fill="#fff" stroke-linecap="round" stroke-linejoin="round" />
<ellipse cx="585" cy="304.77" rx="2.7300000000000004" ry="1.6800000000000002" stroke="#111" stroke-width="1.2" fill="#fff" />
<line x1="583.11" y1="307.71" x2="583.11" y2="311.07" stroke="#111" stroke-width="0.7" />
<line x1="586.89" y1="307.71" x2="586.89" y2="311.07" stroke="#111" stroke-width="0.7" />
<line x1="585.5" y1="296.5" x2="585.5" y2="302" stroke="#111" stroke-width="0.9" />
<line x1="166" y1="118.8" x2="214" y2="93.8" stroke="#fff" stroke-width="7.4" />
<line x1="131.3" y1="137" x2="223.5" y2="88.8" stroke="#111" stroke-width="4.7" stroke-dasharray="16.8 3.9" stroke-dashoffset="7.5"/>
<path d="M130.6,134 Q130.6,138 134,137" stroke="#111" stroke-width="1.2" fill="none" stroke-linecap="round" stroke-linejoin="round" />
<path d="M221.5,88.8 Q224.9,87.8 224.9,91.5" stroke="#111" stroke-width="1.2" fill="none" stroke-linecap="round" stroke-linejoin="round" />
<line x1="224.9" y1="91" x2="224.9" y2="116" stroke="#111" stroke-width="0.9" />
<line x1="224.9" y1="124" x2="224.9" y2="203" stroke="#111" stroke-width="0.9" />
<line x1="110" y1="134.8" x2="157.5" y2="108.2" stroke="#111" stroke-width="0.9" />
<ellipse cx="94.6" cy="144.5" rx="11" ry="10.6" stroke="#111" stroke-width="1.6" fill="#fff" />
<ellipse cx="99.6" cy="144.7" rx="6.8" ry="9.2" stroke="#111" stroke-width="1.4" fill="#fff" transform="rotate(8 99.6 144.7)" />
<path d="M96.1,152.5 A7.5,9.5 0 0 0 105.6,142.0" stroke="#111" stroke-width="0.8" fill="none" stroke-linecap="round" stroke-linejoin="round" />
<path d="M89.1,135.2 L90.6,130.5 L95.39999999999999,131.7 L96.6,128.3 L99.6,127.9 L101.1,131.3 L105.1,130.9 L105.1,134.9 L98.6,134.2 L95.6,135.0Z" stroke="#111" stroke-width="1.5" fill="#fff" stroke-linecap="round" stroke-linejoin="round" />
<path d="M92.6,132.2 L102.6,134.0 M95.39999999999999,131.7 L97.1,134.7 M101.1,131.3 L100.1,134.2" stroke="#111" stroke-width="1.0" fill="none" stroke-linecap="round" stroke-linejoin="round" />
<line x1="52.4" y1="143.2" x2="83.5" y2="143.2" stroke="#111" stroke-width="1" />
<text x="36.5" y="145" font-size="16.5" text-anchor="start" fill="#000" >2</text>
<line x1="172.3" y1="171.5" x2="211" y2="149" stroke="#111" stroke-width="0.9" />
<ellipse cx="150.5" cy="178" rx="17.5" ry="18.8" stroke="#111" stroke-width="1.6" fill="#fff" transform="rotate(8 150.5 178)" />
<ellipse cx="156.0" cy="178.4" rx="13.4" ry="17.3" stroke="#111" stroke-width="1.4" fill="#fff" transform="rotate(8 156.0 178.4)" />
<path d="M148.5,191.5 A15.5,17 0 0 0 167.5,174.5" stroke="#111" stroke-width="1.0" fill="none" stroke-linecap="round" stroke-linejoin="round" />
<path d="M150.0,189.5 A14,15.5 0 0 0 166.0,175" stroke="#111" stroke-width="0.7" fill="none" stroke-linecap="round" stroke-linejoin="round" />
<path d="M142.5,162 L143.0,153.5 L148.0,151.2 L152.5,153.2 L152.5,165 L147.5,166.5Z" stroke="#111" stroke-width="1.6" fill="#fff" stroke-linecap="round" stroke-linejoin="round" />
<path d="M143.0,153.5 L147.5,155.7 L147.5,166.5 M147.5,155.7 L152.5,153.2" stroke="#111" stroke-width="1.0" fill="none" stroke-linecap="round" stroke-linejoin="round" />
<ellipse cx="145.2" cy="160" rx="1.5" ry="1.7" stroke="#111" stroke-width="0.9" fill="#fff" />
<path d="M151.5,152.5 L152.0,147.2 L156.5,146 L161.7,148.5 L161.5,158.5 L156.5,161.5 L152.5,160" stroke="#111" stroke-width="1.6" fill="#fff" stroke-linecap="round" stroke-linejoin="round" />
<path d="M152.0,147.2 L156.7,149.4 L156.5,161.5 M156.7,149.4 L161.7,148.5" stroke="#111" stroke-width="1.0" fill="none" stroke-linecap="round" stroke-linejoin="round" />
<path d="M158.5,160.5 C164.5,163 168.5,166 169.7,170" stroke="#111" stroke-width="1.3" fill="none" stroke-linecap="round" stroke-linejoin="round" />
<line x1="102.3" y1="181.5" x2="134" y2="181.5" stroke="#111" stroke-width="1" />
<text x="86.5" y="183.2" font-size="16.5" text-anchor="start" fill="#000" >3</text>
<path d="M219.1,212.1 L219.7,216.5 Q225.1,219.9 230.5,216.5 L231.1,212.1Z" stroke="#111" stroke-width="1.5" fill="#fff" stroke-linecap="round" stroke-linejoin="round" />
<line x1="222.5" y1="213.1" x2="222.5" y2="218.1" stroke="#111" stroke-width="0.8" />
<line x1="227.7" y1="213.1" x2="227.7" y2="218.1" stroke="#111" stroke-width="0.8" />
<ellipse cx="225.1" cy="209.1" rx="7.4" ry="4.0" stroke="#111" stroke-width="1.9" fill="#fff" />
<ellipse cx="225.1" cy="209.1" rx="3.6" ry="1.8" stroke="#111" stroke-width="1.3" fill="#fff" />
<line x1="224.9" y1="196" x2="225" y2="209.5" stroke="#555" stroke-width="1.3" />
<line x1="225.1" y1="219.5" x2="225.1" y2="226" stroke="#555" stroke-width="1.3" />
<line x1="188" y1="211.5" x2="217.6" y2="211.5" stroke="#111" stroke-width="1" />
<text x="163.5" y="216.2" font-size="16.5" text-anchor="start" fill="#000" >10</text>
<line x1="1.5" y1="492.5" x2="663.5" y2="492.5" stroke="#909090" stroke-width="1.0" />
<path d="M395.6,385.0 C394.6,385.6 392.8,385.6 390.5,388.8 C388.2,392.1 383.3,400.9 380.3,406.6 C377.2,412.4 371.4,423.0 370.1,427.0 C368.8,431.0 369.8,431.9 371.4,433.4 C372.9,434.9 376.3,435.5 380.3,437.2 C384.3,438.9 393.7,442.6 398.1,444.9 C402.5,447.2 406.7,450.0 409.6,452.5 C412.5,455.0 415.1,460.1 417.2,461.4 C419.3,462.8 420.0,463.0 423.6,461.4 C427.2,459.9 435.0,454.5 441.5,451.2 C448.0,448.0 460.1,442.3 466.9,439.8 C473.8,437.3 482.0,436.6 487.3,434.7 C492.7,432.8 499.6,428.9 502.6,427.0 C505.7,425.1 505.4,423.3 507.7,421.9 C510.0,420.6 515.2,419.8 517.9,418.1 C520.6,416.4 524.1,413.7 525.6,410.5 C527.0,407.2 528.0,400.8 527.6,396.5 C527.2,392.1 524.8,385.4 523.0,381.2 C521.2,377.0 517.7,371.9 515.4,368.4 C513.1,365.0 509.4,361.7 507.7,358.2 C506.0,354.8 505.0,348.9 503.9,345.5 C502.7,342.0 501.8,338.0 500.1,335.3 C498.3,332.6 494.7,329.2 492.4,327.6 C490.1,326.1 486.7,325.1 484.8,325.1 C482.9,325.1 481.0,326.1 479.7,327.6 C478.3,329.2 477.0,332.2 475.9,335.3 C474.7,338.3 472.8,344.8 472.0,348.0 C471.3,351.3 472.3,354.7 470.8,357.0 C469.2,359.2 464.7,361.2 461.8,363.3 C459.0,365.4 454.1,368.7 451.6,371.0 C449.2,373.3 447.0,376.9 445.3,378.6 C443.6,380.3 441.3,382.2 440.2,382.4 C439.0,382.6 438.6,380.1 437.6,379.9 C436.7,379.7 435.1,380.4 433.8,381.2 C432.5,381.9 431.0,384.0 428.7,385.0 C426.4,385.9 422.0,387.3 418.5,387.5 C415.1,387.8 409.0,387.2 405.8,386.8 C402.5,386.4 398.4,385.3 396.9,385.0 C395.3,384.7 396.5,384.4 395.6,385.0Z" stroke="#111" stroke-width="2.1" fill="#fff" stroke-linecap="round" stroke-linejoin="round" />
<path d="M393.5,389.3 C391.8,392.4 386.7,401.5 383.3,407.9 C380.0,414.3 375.0,423.5 373.7,427.5 C372.3,431.6 374.9,431.4 375.2,432.1" stroke="#111" stroke-width="0.9" fill="none" stroke-linecap="round" stroke-linejoin="round" />
<path d="M396.9,388.8 L403.2,390.1 L405.8,406.6 L416.0,415.6 L424.9,414.8 L433.8,407.9" stroke="#111" stroke-width="1.1" fill="none" stroke-linecap="round" stroke-linejoin="round" />
<path d="M433.8,407.9 L436.9,402.8 L461.8,391.4 L469.5,396.5 L477.1,401.5 L474.6,405.4 L465.7,410.5 L454.2,405.4 L446.5,407.9Z" stroke="#111" stroke-width="1.1" fill="#fff" stroke-linecap="round" stroke-linejoin="round" />
<path d="M431.3,414.3 C434.3,413.4 444.6,411.5 447.8,411.7 C451.1,412.0 450.6,414.3 450.6,415.6 C450.6,416.8 450.8,418.7 447.8,419.4 C444.8,420.1 435.5,420.3 432.5,419.9 C429.5,419.5 429.9,418.0 429.7,417.1 C429.5,416.2 428.2,415.2 431.3,414.3Z" stroke="#111" stroke-width="1.1" fill="#fff" stroke-linecap="round" stroke-linejoin="round" />
<path d="M371.4,429.6 L407.0,410.5M375.2,433.9 L410.4,415.6" stroke="#111" stroke-width="0.9" fill="none" stroke-linecap="round" stroke-linejoin="round" />
<path d="M398.1,444.9 L433.8,421.9M451.6,413.0 L465.7,410.5" stroke="#111" stroke-width="0.9" fill="none" stroke-linecap="round" stroke-linejoin="round" />
<path d="M481.0,401.5 L503.9,389.3" stroke="#111" stroke-width="0.9" fill="none" stroke-linecap="round" stroke-linejoin="round" />
<path d="M417.2,460.9 C418.1,458.7 418.3,451.7 422.3,447.4 C426.4,443.1 434.0,438.5 441.5,435.2 C448.9,431.9 460.6,429.4 466.9,427.5 C473.3,425.7 477.6,424.6 479.7,424.0" stroke="#111" stroke-width="0.9" fill="none" stroke-linecap="round" stroke-linejoin="round" />
<path d="M409.6,452.5 C414.9,449.1 430.2,437.7 441.5,432.1 C452.7,426.5 471.2,421.1 477.1,418.9" stroke="#111" stroke-width="0.9" fill="none" stroke-linecap="round" stroke-linejoin="round" />
<path d="M502.6,427.0 C502.2,426.4 497.5,424.7 500.1,423.2 C502.6,421.7 514.9,419.0 517.9,418.1" stroke="#111" stroke-width="0.9" fill="none" stroke-linecap="round" stroke-linejoin="round" />
<path d="M489.9,348.0 C490.7,350.2 493.7,356.5 495.0,360.8 C496.2,365.0 497.7,369.3 497.5,373.5 C497.3,377.8 495.8,382.9 493.7,386.3 C491.6,389.7 488.0,392.2 484.8,393.9 C481.6,395.6 476.3,396.0 474.6,396.5" stroke="#111" stroke-width="1.0" fill="none" stroke-linecap="round" stroke-linejoin="round" />
<path d="M493.7,350.6 C494.8,352.7 499.1,359.3 500.6,363.3 C502.1,367.4 503.0,370.3 502.6,374.8 C502.2,379.3 500.5,386.2 498.0,390.1 C495.6,393.9 489.5,396.7 487.8,398.0" stroke="#111" stroke-width="1.0" fill="none" stroke-linecap="round" stroke-linejoin="round" />
<path d="M473.3,374.8 L474.6,390.1" stroke="#111" stroke-width="1.0" fill="none" stroke-linecap="round" stroke-linejoin="round" />
<path d="M475.9,335.8 L484.8,348.0 L504.7,357.7" stroke="#111" stroke-width="0.9" fill="none" stroke-linecap="round" stroke-linejoin="round" />
<path d="M451.6,371.0 L469.5,386.8 L469.5,396.5" stroke="#111" stroke-width="0.9" fill="none" stroke-linecap="round" stroke-linejoin="round" />
<ellipse cx="495.47910295616714" cy="339.8776758409786" rx="2.2" ry="3.6" stroke="#111" stroke-width="1.2" fill="#fff" transform="rotate(15 495.47910295616714 339.8776758409786)" />
<ellipse cx="449.0978593272171" cy="387.53312945973494" rx="3.6" ry="2.2" stroke="#111" stroke-width="1.1" fill="#fff" />
<ellipse cx="417.2426095820591" cy="407.41080530071355" rx="3.4" ry="2.2" stroke="#111" stroke-width="1.1" fill="#fff" />
<ellipse cx="396.0907237512742" cy="398.49133537206933" rx="3.0" ry="4.4" stroke="#111" stroke-width="1.2" fill="#fff" transform="rotate(15 396.0907237512742 398.49133537206933)" />
<path d="M392.5,402.8 L400.7,401.0" stroke="#111" stroke-width="0.8" fill="none" stroke-linecap="round" stroke-linejoin="round" />
<ellipse cx="489.8725790010194" cy="426.01427115188585" rx="9.6" ry="6.2" stroke="#111" stroke-width="1.2" fill="#fff" />
<ellipse cx="489.8725790010194" cy="423.97553516819573" rx="6.6" ry="4.4" stroke="#111" stroke-width="1.3" fill="#fff" />
<path d="M490.4,437.7 L492.4,437.7" stroke="#111" stroke-width="1.0" fill="none" stroke-linecap="round" stroke-linejoin="round" />
<line x1="458" y1="332.5" x2="458" y2="344" stroke="#111" stroke-width="4.6" />
<line x1="458" y1="346.8" x2="458" y2="358.6" stroke="#111" stroke-width="4.6" />
<line x1="625.7" y1="264.8" x2="458.5" y2="359.2" stroke="#111" stroke-width="0.9" />
<line x1="416.7" y1="279" x2="416.7" y2="405" stroke="#111" stroke-width="0.9" />
<path d="M410.5,475.8 L411.1,480.2 Q416.5,483.6 421.9,480.2 L422.5,475.8Z" stroke="#111" stroke-width="1.5" fill="#fff" stroke-linecap="round" stroke-linejoin="round" />
<line x1="413.9" y1="476.8" x2="413.9" y2="481.8" stroke="#111" stroke-width="0.8" />
<line x1="419.1" y1="476.8" x2="419.1" y2="481.8" stroke="#111" stroke-width="0.8" />
<ellipse cx="416.5" cy="472.8" rx="7.4" ry="4.0" stroke="#111" stroke-width="1.9" fill="#fff" />
<ellipse cx="416.5" cy="472.8" rx="3.6" ry="1.8" stroke="#111" stroke-width="1.3" fill="#fff" />
<line x1="416.6" y1="462.5" x2="416.6" y2="473" stroke="#555" stroke-width="1.3" />
<line x1="416.6" y1="483" x2="416.6" y2="488" stroke="#555" stroke-width="1.3" />
<line x1="378.6" y1="472" x2="408" y2="472" stroke="#111" stroke-width="1" />
<text x="354" y="477.2" font-size="16.5" text-anchor="start" fill="#000" >10</text>
<line x1="353.4" y1="437.6" x2="380" y2="437.6" stroke="#111" stroke-width="1" />
<text x="329.5" y="442.2" font-size="16.5" text-anchor="start" fill="#000" >14</text>
<g transform="translate(354 373.6) rotate(25.8) scale(1.0)">
<path d="M-2,-6.6 L-10.5,-6 Q-13.2,0 -10.5,6 L-2,6.6Z" stroke="#111" stroke-width="1.5" fill="#fff" stroke-linecap="round" stroke-linejoin="round" />
<path d="M-11.5,-2.4 L-2,-2.6 M-11.5,2.4 L-2,2.6" stroke="#111" stroke-width="0.8" fill="none" stroke-linecap="round" stroke-linejoin="round" />
<path d="M2,-3.7 L20.5,-3.7 Q23.5,0 20.5,3.7 L2,3.7Z" stroke="#111" stroke-width="1.1" fill="#fff" stroke-linecap="round" stroke-linejoin="round" />
<line x1="7.5" y1="-3.7" x2="8.6" y2="3.7" stroke="#111" stroke-width="1.15" />
<line x1="9.6" y1="-3.7" x2="10.7" y2="3.7" stroke="#111" stroke-width="1.15" />
<line x1="11.7" y1="-3.7" x2="12.799999999999999" y2="3.7" stroke="#111" stroke-width="1.15" />
<line x1="13.8" y1="-3.7" x2="14.9" y2="3.7" stroke="#111" stroke-width="1.15" />
<line x1="15.9" y1="-3.7" x2="17.0" y2="3.7" stroke="#111" stroke-width="1.15" />
<line x1="18.0" y1="-3.7" x2="19.1" y2="3.7" stroke="#111" stroke-width="1.15" />
<ellipse cx="0" cy="0" rx="4.4" ry="9.3" stroke="#111" stroke-width="1.9" fill="#fff" />
<ellipse cx="2.2" cy="0" rx="2.2" ry="3.8" stroke="#111" stroke-width="1.0" fill="#fff" />
<path d="M2.4,-3.7 L7,-3.7 M2.4,3.7 L7,3.7" stroke="#111" stroke-width="1.0" fill="none" stroke-linecap="round" stroke-linejoin="round" />
<rect x="2.6" y="-3.2" width="4.6" height="6.4" fill="#fff"/>
</g>
<line x1="375" y1="385.8" x2="391.8" y2="397" stroke="#111" stroke-width="0.8" />
<line x1="367.2" y1="339.3" x2="367.2" y2="376" stroke="#111" stroke-width="1" />
<text x="358.3" y="331.6" font-size="16.5" text-anchor="start" fill="#000" >15</text>
<g transform="translate(645.7 252.6) rotate(150.6) scale(1.0)">
<path d="M-2,-6.6 L-10.5,-6 Q-13.2,0 -10.5,6 L-2,6.6Z" stroke="#111" stroke-width="1.5" fill="#fff" stroke-linecap="round" stroke-linejoin="round" />
<path d="M-11.5,-2.4 L-2,-2.6 M-11.5,2.4 L-2,2.6" stroke="#111" stroke-width="0.8" fill="none" stroke-linecap="round" stroke-linejoin="round" />
<path d="M2,-3.7 L20.5,-3.7 Q23.5,0 20.5,3.7 L2,3.7Z" stroke="#111" stroke-width="1.1" fill="#fff" stroke-linecap="round" stroke-linejoin="round" />
<line x1="7.5" y1="-3.7" x2="8.6" y2="3.7" stroke="#111" stroke-width="1.15" />
<line x1="9.6" y1="-3.7" x2="10.7" y2="3.7" stroke="#111" stroke-width="1.15" />
<line x1="11.7" y1="-3.7" x2="12.799999999999999" y2="3.7" stroke="#111" stroke-width="1.15" />
<line x1="13.8" y1="-3.7" x2="14.9" y2="3.7" stroke="#111" stroke-width="1.15" />
<line x1="15.9" y1="-3.7" x2="17.0" y2="3.7" stroke="#111" stroke-width="1.15" />
<line x1="18.0" y1="-3.7" x2="19.1" y2="3.7" stroke="#111" stroke-width="1.15" />
<ellipse cx="0" cy="0" rx="4.4" ry="9.3" stroke="#111" stroke-width="1.9" fill="#fff" />
<ellipse cx="2.2" cy="0" rx="2.2" ry="3.8" stroke="#111" stroke-width="1.0" fill="#fff" />
<path d="M2.4,-3.7 L7,-3.7 M2.4,3.7 L7,3.7" stroke="#111" stroke-width="1.0" fill="none" stroke-linecap="round" stroke-linejoin="round" />
<rect x="2.6" y="-3.2" width="4.6" height="6.4" fill="#fff"/>
</g>
<line x1="651" y1="206.7" x2="651" y2="243" stroke="#111" stroke-width="1" />
<text x="640.5" y="199.2" font-size="16.5" text-anchor="start" fill="#000" >15</text>
<line x1="592.4" y1="306.7" x2="625.7" y2="306.7" stroke="#111" stroke-width="1" />
<text x="628.3" y="309.7" font-size="16.5" text-anchor="start" fill="#000" >12</text>
<g transform="translate(0 0)">
<path d="M317,116.3 L341,116.3 L341,151.4 L333.6,151.4 L332.5,163 L325,151.4 L293.7,151.4 L293.7,141 L282,132.5 L293.7,129.3 L293.7,117" stroke="#111" stroke-width="1.7" fill="#fff" stroke-linecap="round" stroke-linejoin="round" />
<text x="296.3" y="127.4" font-size="16.5" text-anchor="start" fill="#000" >27</text>
<path d="M320.5,127.5 C326,127 329.5,131 329,135.5 C328.5,140 324.5,142 321,141 C318,140 316,137.5 315.5,135" stroke="#111" stroke-width="1.9" fill="none" stroke-linecap="round" stroke-linejoin="round" />
</g>
<line x1="334.8" y1="213" x2="334.8" y2="246" stroke="#111" stroke-width="1" />
<path d="M327,248 L322.8,248 L322.8,272.5 L347.5,272.5 L347.5,248 L343.5,248" stroke="#111" stroke-width="1.3" fill="none" stroke-linecap="round" stroke-linejoin="round" />
<text x="335.2" y="267.5" font-size="16.5" text-anchor="middle" fill="#000" >1</text>
<rect x="13.3" y="246" width="131.9" height="146.6" fill="#fff" stroke="#111" stroke-width="2.2"/>
<text x="43.5" y="271.6" font-size="16.5" text-anchor="start" fill="#000" >17</text>
<line x1="42.5" y1="278.5" x2="61" y2="278.5" stroke="#aaa" stroke-width="0.8" />
<line x1="52" y1="278.5" x2="52" y2="313" stroke="#111" stroke-width="0.9" />
<path d="M34,322.5 L67.5,305.0 L125,305.0 L125,361.0 L95,380.0 L34,380.0Z" stroke="#111" stroke-width="1.3" fill="#fff" stroke-linecap="round" stroke-linejoin="round" />
<path d="M34,322.5 L95,322.5 L125,305.0 M95,322.5 L95,380.0" stroke="#111" stroke-width="1.2" fill="none" stroke-linecap="round" stroke-linejoin="round" />
<text x="64.5" y="341.2" font-size="10" font-weight="bold" text-anchor="middle" textLength="51" lengthAdjust="spacingAndGlyphs" style="font-family:'Liberation Serif',serif" fill="#000" stroke="#000" stroke-width="0.35">VOLVO</text>
<path d="M41.4,398.8 L111.5,398.8 L111.5,486.8 L13.3,486.8 L13.3,400" stroke="#111" stroke-width="2.2" fill="#fff" stroke-linecap="round" stroke-linejoin="round" />
<text x="16" y="415.2" font-size="16.5" text-anchor="start" fill="#000" >24</text>
<g transform="translate(0 0)">
<path d="M64.1,407.4 L73.6,412.2 L76.3,423.6 L68.2,437.8 L58.1,439.2 L47.7,460.3 Q46.6,465.5 50.0,468.4 L66.2,459.4 L68.5,446.6 L85.1,436.5 L88.7,437.4 L102.6,446.3 L98.5,450.0 L72.2,464.4 L52.7,474.5 Q41.2,471.5 38.5,454.7 L42.5,445.2Z" stroke="#111" stroke-width="1.7" fill="#fff" stroke-linecap="round" stroke-linejoin="round" />
<path d="M70.2,412.8 L58.1,438.8" stroke="#111" stroke-width="0.8" fill="none" stroke-linecap="round" stroke-linejoin="round" />
<path d="M67.9,416.2 L43.9,460.8 Q43.9,467.5 52.0,472.0 L72.2,462.0" stroke="#111" stroke-width="0.8" fill="none" stroke-linecap="round" stroke-linejoin="round" />
<path d="M66.2,459.8 L68.7,446.9 L85.5,436.7" stroke="#111" stroke-width="2.4" fill="none" stroke-linecap="round" stroke-linejoin="round" />
<path d="M72.5,463.9 L74.4,449.6 L88.7,441.2" stroke="#111" stroke-width="1.9" fill="none" stroke-linecap="round" stroke-linejoin="round" />
<path d="M74.4,449.6 L88.7,438.5 M88.7,441.2 L98.5,450.0" stroke="#111" stroke-width="0.8" fill="none" stroke-linecap="round" stroke-linejoin="round" />
<path d="M83.0,457.6 L84.4,460.5 L89.8,459.0 L91.1,455.5" stroke="#111" stroke-width="0.9" fill="none" stroke-linecap="round" stroke-linejoin="round" />
<ellipse cx="60.35762483130904" cy="423.64102564102564" rx="2.5" ry="2.9" stroke="#111" stroke-width="1.2" fill="#fff" />
<ellipse cx="60.657624831309036" cy="423.64102564102564" rx="1.3" ry="1.6" stroke="#111" stroke-width="0.9" fill="#fff" />
</g>
<path d="M149.3,398.8 L219.4,398.8 L219.4,486.8 L120.5,486.8 L120.5,400" stroke="#111" stroke-width="2.2" fill="#fff" stroke-linecap="round" stroke-linejoin="round" />
<text x="124.5" y="415.2" font-size="16.5" text-anchor="start" fill="#000" >16</text>
<ellipse cx="172.8" cy="452.5" rx="25.8" ry="15.2" stroke="#111" stroke-width="1.6" fill="#fff" />
<ellipse cx="172.8" cy="449.5" rx="25.8" ry="15.2" stroke="#111" stroke-width="1.6" fill="#fff" />
<path d="M153.0,430.8 L153.60000000000002,448.2 Q172.8,466.8 192.3,447.0 L192.60000000000002,430.8Z" stroke="#111" stroke-width="1.5" fill="#fff" stroke-linecap="round" stroke-linejoin="round" />
<path d="M153.0,430.8 A19.8,10.6 0 0 1 192.60000000000002,430.8 L184.8,439.2 L160.8,439.2Z" stroke="#111" stroke-width="1.8" fill="#fff" stroke-linecap="round" stroke-linejoin="round" />
<path d="M160.8,439.2 L160.8,454.2 M184.8,439.2 L184.8,454.2" stroke="#111" stroke-width="1.0" fill="none" stroke-linecap="round" stroke-linejoin="round" />
<ellipse cx="172.8" cy="428.4" rx="11.4" ry="6.6" stroke="#111" stroke-width="1.5" fill="#fff" />
<path d="M164.20000000000002,432.0 A8.6,3.2 0 0 1 180.8,432.3" stroke="#111" stroke-width="0.9" fill="none" stroke-linecap="round" stroke-linejoin="round" />
<path d="M166.3,434.0 A7,2.6 0 0 1 178.8,434.1" stroke="#555" stroke-width="0.8" fill="none" stroke-linecap="round" stroke-linejoin="round" />
<g transform="translate(-12.7 484.5)">
<path d="M232.2,57.5 C232.5,56.3 233.2,52.4 234.2,50.4 C235.2,48.4 236.6,46.8 238.2,45.4 C239.8,44.0 241.6,43.0 243.5,42.3 C245.4,41.6 247.4,41.2 249.5,41.2 C251.6,41.2 250.5,40.5 256.0,42.2 C261.5,43.9 278.1,50.0 282.5,51.6 L321,72.8 L378.5,106.7 Q385,110.5 383,115.7 L373,116.5 Q367,120 366,127.5 L326,102.5 L320,109.8 L280,87.3 L253.8,72 L232.2,57.5Z" stroke="#111" stroke-width="2.0" fill="#fff" stroke-linecap="round" stroke-linejoin="round" />
<path d="M282.5,51.6 C268.5,52.1 257.8,57.6 253.8,72" stroke="#3a3a3a" stroke-width="1.2" fill="none" stroke-linecap="round" stroke-linejoin="round" />
<path d="M304,63.5 C290,64.0 280.6,69.5 276.6,85" stroke="#3a3a3a" stroke-width="1.2" fill="none" stroke-linecap="round" stroke-linejoin="round" />
<path d="M325.7,76.2 C311.7,76.7 303.3,82.2 299.3,98" stroke="#3a3a3a" stroke-width="1.2" fill="none" stroke-linecap="round" stroke-linejoin="round" />
<path d="M349.7,90 C335.7,90.5 330.3,96 326.3,103" stroke="#3a3a3a" stroke-width="1.2" fill="none" stroke-linecap="round" stroke-linejoin="round" />
<path d="M371.3,102.8 C357.3,103.3 353.7,108.8 349.7,117.3" stroke="#3a3a3a" stroke-width="1.2" fill="none" stroke-linecap="round" stroke-linejoin="round" />
<path d="M373,116.5 C366,106 356,107 349.7,117.3" stroke="#3a3a3a" stroke-width="1.1" fill="none" stroke-linecap="round" stroke-linejoin="round" />
</g>
<g transform="translate(-14 495.5)">
<path d="M490.4,10.5 C493.2,10.4 496.7,10.5 499.4,12.0 C502.2,13.5 505.8,16.5 506.9,19.5 C508.1,22.5 506.5,25.7 506.3,30.0 C506.2,34.2 505.4,40.7 506.0,45.0 C506.6,49.2 508.3,52.5 509.9,55.5 C511.6,58.5 514.5,60.2 515.9,63.0 C517.3,65.7 518.1,69.2 518.3,72.0 C518.6,74.7 518.1,77.2 517.4,79.5 C516.8,81.7 515.7,83.7 514.4,85.5 C513.2,87.2 513.2,87.5 509.9,90.0 C506.7,92.5 500.9,96.7 494.9,100.4 C488.9,104.2 479.4,109.7 474.0,112.4 C468.5,115.2 465.5,115.2 462.0,116.9 C458.5,118.7 455.5,120.7 453.0,122.9 C450.5,125.2 449.0,127.9 447.0,130.4 C445.0,132.9 445.0,134.9 441.0,137.9 C437.0,140.9 429.5,145.2 423.0,148.4 C416.5,151.7 406.5,155.8 402.0,157.4 C397.5,159.0 397.7,158.5 396.0,158.0 C394.2,157.5 393.2,156.3 391.5,154.4 C389.7,152.6 386.7,149.2 385.5,146.9 C384.2,144.7 384.0,143.4 384.0,140.9 C384.0,138.4 384.5,135.4 385.5,131.9 C386.5,128.4 389.1,124.9 390.0,119.9 C390.8,114.9 390.8,107.9 390.6,101.9 C390.3,96.0 388.5,88.2 388.5,84.0 C388.5,79.7 389.3,78.5 390.6,76.5 C391.8,74.5 392.1,75.0 396.0,72.0 C399.9,69.0 407.5,63.0 414.0,58.5 C420.5,54.0 428.0,49.5 435.0,45.0 C442.0,40.5 449.5,35.7 456.0,31.5 C462.5,27.2 469.5,22.6 474.0,19.5 C478.4,16.3 480.2,14.1 482.9,12.6 C485.7,11.1 487.7,10.6 490.4,10.5Z" stroke="#111" stroke-width="2.2" fill="#fff" stroke-linecap="round" stroke-linejoin="round" />
<path d="M490.4,27.0 C490.6,30.0 490.8,39.0 491.3,45.0 C491.8,51.0 492.8,57.2 493.4,63.0 C494.0,68.7 497.7,72.7 494.9,79.5 C492.2,86.2 482.4,97.5 476.9,103.4 C471.5,109.4 465.9,112.8 462.0,115.4 C458.1,118.0 455.0,118.4 453.6,119.0" stroke="#555" stroke-width="0.9" fill="none" stroke-linecap="round" stroke-linejoin="round" />
<path d="M490.4,27.0 C487.7,28.7 483.2,31.2 474.0,37.5 C464.7,43.7 446.0,57.0 435.0,64.5 C424.0,72.0 413.6,78.6 408.0,82.5 C402.4,86.3 402.4,84.8 401.4,87.6 C400.4,90.3 402.1,93.6 402.0,99.0 C401.8,104.3 401.5,111.9 400.5,119.9 C399.5,127.9 394.7,142.4 396.0,146.9 C397.2,151.4 401.7,148.2 408.0,146.9 C414.2,145.7 427.7,141.9 433.5,139.4 C439.2,136.9 441.0,133.2 442.5,131.9" stroke="#555" stroke-width="0.9" fill="none" stroke-linecap="round" stroke-linejoin="round" />
<path d="M409.5,96.0 C413.7,93.5 426.7,84.7 435.0,81.0 C443.2,77.2 452.0,74.7 459.0,73.5 C466.0,72.2 473.4,72.5 476.9,73.5 C480.5,74.5 480.1,76.7 480.5,79.5 C480.9,82.2 480.4,86.7 479.3,90.0 C478.2,93.2 478.1,94.2 474.0,99.0 C469.8,103.7 457.7,115.2 454.5,118.4" stroke="#555" stroke-width="0.9" fill="none" stroke-linecap="round" stroke-linejoin="round" />
<path d="M409.5,96.0 C411.7,96.7 416.2,100.0 423.0,100.4 C429.7,100.9 441.0,100.7 450.0,99.0 C459.0,97.2 472.5,91.5 476.9,90.0" stroke="#555" stroke-width="0.9" fill="none" stroke-linecap="round" stroke-linejoin="round" />
<path d="M439.5,64.5 C441.7,63.5 447.7,60.7 453.0,58.5 C458.2,56.2 468.0,52.2 471.0,51.0" stroke="#777" stroke-width="0.8" fill="none" stroke-linecap="round" stroke-linejoin="round" />
<path d="M447.0,63.0 C449.5,62.6 457.7,61.8 462.0,60.6 C466.2,59.3 470.7,56.3 472.5,55.5" stroke="#777" stroke-width="0.8" fill="none" stroke-linecap="round" stroke-linejoin="round" />
<path d="M465.0,45.0 C466.2,44.5 470.2,42.6 472.5,42.0 C474.7,41.4 477.4,41.5 478.4,41.4" stroke="#777" stroke-width="0.8" fill="none" stroke-linecap="round" stroke-linejoin="round" />
<path d="M424.5,103.4 L423.0,119.9M453.6,103.4 L453.6,118.4M420.0,131.9 L433.5,139.4M494.9,79.5 L509.9,90.0M490.4,27.0 L499.4,13.5" stroke="#666" stroke-width="0.8" fill="none" stroke-linecap="round" stroke-linejoin="round" />
<path d="M501.8,60.9 L510.5,63.6 L511.7,75.0 L504.2,73.8Z" stroke="#111" stroke-width="1.9" fill="#fff" stroke-linecap="round" stroke-linejoin="round" />
<path d="M503.9,64.5 L508.7,66.0 L509.0,72.0 L504.8,71.1Z" stroke="#111" stroke-width="1.2" fill="#bbb" stroke-linecap="round" stroke-linejoin="round" />
<path d="M498.5,67.5 L502.1,69.0 L502.1,72.0" stroke="#111" stroke-width="1.2" fill="none" stroke-linecap="round" stroke-linejoin="round" />
<ellipse cx="413.2" cy="126.6" rx="6.4" ry="7.6" stroke="#111" stroke-width="1.7" fill="#fff" transform="rotate(-25 413.2 126.6)" />
<ellipse cx="414.8" cy="126.2" rx="4.2" ry="5" stroke="#111" stroke-width="1.4" fill="#fff" transform="rotate(-25 414.8 126.2)" />
<ellipse cx="416" cy="126" rx="2" ry="2.6" stroke="#111" stroke-width="1.2" fill="#fff" transform="rotate(-25 416 126)" />
</g>
<rect x="277" y="488" width="22" height="9" fill="#fff"/>
<path d="M236.29999999999998,500.4 L236.29999999999998,495.4 Q239.6,493.2 242.9,495.4 L242.9,500.4Z" stroke="#111" stroke-width="1.3" fill="#fff" stroke-linecap="round" stroke-linejoin="round" />
<line x1="238.6" y1="494.7" x2="238.6" y2="500.4" stroke="#111" stroke-width="0.7" />
<ellipse cx="239.6" cy="502.0" rx="4.6" ry="1.7" stroke="#111" stroke-width="1.3" fill="#fff" />
<path d="M237.4,503.9 L237.4,511.4 L241.79999999999998,511.4 L241.79999999999998,503.9Z" stroke="#111" stroke-width="0.6" fill="#3a3a3a" stroke-linecap="round" stroke-linejoin="round" />
<line x1="239.6" y1="511" x2="239.6" y2="527.5" stroke="#111" stroke-width="0.9" />
<line x1="239.6" y1="556" x2="239.6" y2="563" stroke="#111" stroke-width="0.9" />
<line x1="244.5" y1="501.7" x2="276.8" y2="501.7" stroke="#111" stroke-width="1" />
<text x="284.2" y="505.8" font-size="16.5" text-anchor="start" fill="#000" >9</text>
<line x1="307.3" y1="555.5" x2="338.5" y2="555.5" stroke="#111" stroke-width="1" />
<text x="344.2" y="561.2" font-size="16.5" text-anchor="start" fill="#000" >8</text>
<line x1="495" y1="517" x2="531" y2="517" stroke="#111" stroke-width="1" />
<text x="532" y="521.7" font-size="16.5" text-anchor="start" fill="#000" >13</text>
<line x1="504" y1="557.5" x2="606" y2="499.6" stroke="#111" stroke-width="0.9" />
<line x1="608.4" y1="497.7" x2="608.4" y2="733.2" stroke="#111" stroke-width="4.5" stroke-dasharray="17.6 4.05" stroke-dashoffset="8.5"/>
<line x1="605.5" y1="735" x2="460.2" y2="819" stroke="#111" stroke-width="0.9" />
<path d="M43,522 L43,502 Q46.4,498.5 49.8,502 L49.8,522 Z" stroke="#111" stroke-width="1.5" fill="#fff" stroke-linecap="round" stroke-linejoin="round" />
<line x1="43.3" y1="503.5" x2="49.5" y2="503.5" stroke="#111" stroke-width="1.1" />
<line x1="43.3" y1="505.5" x2="49.5" y2="505.5" stroke="#111" stroke-width="1.1" />
<line x1="43.3" y1="507.5" x2="49.5" y2="507.5" stroke="#111" stroke-width="1.1" />
<line x1="43.3" y1="509.5" x2="49.5" y2="509.5" stroke="#111" stroke-width="1.1" />
<line x1="43.3" y1="511.5" x2="49.5" y2="511.5" stroke="#111" stroke-width="1.1" />
<line x1="43.3" y1="513.5" x2="49.5" y2="513.5" stroke="#111" stroke-width="1.1" />
<line x1="43.3" y1="515.5" x2="49.5" y2="515.5" stroke="#111" stroke-width="1.1" />
<line x1="43.3" y1="517.5" x2="49.5" y2="517.5" stroke="#111" stroke-width="1.1" />
<line x1="43.3" y1="519.5" x2="49.5" y2="519.5" stroke="#111" stroke-width="1.1" />
<line x1="43.3" y1="521.5" x2="49.5" y2="521.5" stroke="#111" stroke-width="1.1" />
<path d="M53.0,533.5 C54.6,534.9 55.6,535.4 60.0,539.5 C64.4,543.6 65.1,546.7 72.0,551.0 C78.9,555.3 81.3,556.1 89.5,558.0 C97.7,559.9 99.2,559.0 107.0,559.0 C114.8,559.0 119.3,558.2 123.0,558.0 L130.3,562 L137.5,566.7 L144.7,570.3 L164,580 L161.5,588.3 L140,578 L131.5,575 L123.0,570.5 C118.8,570.4 112.2,570.5 105.0,570.0 C97.8,569.5 98.3,569.6 92.0,568.3 C85.7,567.0 83.6,566.6 78.0,564.5 C72.4,562.4 73.1,562.6 68.0,559.5 C62.9,556.4 61.6,555.8 56.0,551.0 C50.4,546.2 46.8,541.8 44.0,539.0Z" stroke="#111" stroke-width="1.9" fill="#fff" stroke-linecap="round" stroke-linejoin="round" />
<path d="M137.5,566.7 L134.5,576 M144.7,570.3 L141.5,579" stroke="#111" stroke-width="1.4" fill="none" stroke-linecap="round" stroke-linejoin="round" />
<path d="M34.5,532.5 C33.5,538 38,541.5 46,541.5 C51,541.5 54,539 55,535" stroke="#111" stroke-width="1.8" fill="#fff" stroke-linecap="round" stroke-linejoin="round" />
<ellipse cx="45.7" cy="528.4" rx="12.6" ry="6.8" stroke="#111" stroke-width="2.0" fill="#fff" />
<ellipse cx="131.3" cy="529.0" rx="7.7" ry="3.0" stroke="#111" stroke-width="1.7" fill="#fff" />
<path d="M125.9,522.5 L126.10000000000001,528.6 Q131.3,531.0 136.5,528.6 L136.70000000000002,522.5Z" stroke="#111" stroke-width="1.5" fill="#fff" stroke-linecap="round" stroke-linejoin="round" />
<ellipse cx="131.3" cy="522.5" rx="5.4" ry="2.5" stroke="#111" stroke-width="1.5" fill="#fff" />
<line x1="128.9" y1="525.0" x2="128.9" y2="529.6" stroke="#111" stroke-width="0.8" />
<line x1="133.70000000000002" y1="525.0" x2="133.70000000000002" y2="529.6" stroke="#111" stroke-width="0.8" />
<path d="M128.0,532.2 L128.0,544.6 Q131.3,547.6 134.60000000000002,544.6 L134.60000000000002,532.2Z" stroke="#111" stroke-width="1.5" fill="#fff" stroke-linecap="round" stroke-linejoin="round" />
<line x1="128.10000000000002" y1="533.6" x2="134.5" y2="533.6" stroke="#111" stroke-width="1.0" />
<line x1="128.10000000000002" y1="535.6" x2="134.5" y2="535.6" stroke="#111" stroke-width="1.0" />
<line x1="128.10000000000002" y1="537.6" x2="134.5" y2="537.6" stroke="#111" stroke-width="1.0" />
<line x1="128.10000000000002" y1="539.6" x2="134.5" y2="539.6" stroke="#111" stroke-width="1.0" />
<line x1="128.10000000000002" y1="541.6" x2="134.5" y2="541.6" stroke="#111" stroke-width="1.0" />
<line x1="128.10000000000002" y1="543.6" x2="134.5" y2="543.6" stroke="#111" stroke-width="1.0" />
<line x1="131.8" y1="547" x2="131.8" y2="557" stroke="#111" stroke-width="0.8" />
<line x1="132.3" y1="586" x2="132.3" y2="620" stroke="#111" stroke-width="0.8" />
<line x1="139" y1="528.4" x2="169.5" y2="528.4" stroke="#111" stroke-width="1" />
<text x="172.3" y="534.2" font-size="16.5" text-anchor="start" fill="#000" >11</text>
<path d="M267,660.5 Q262,662 264.5,667 L398,745" stroke="#111" stroke-width="1.6" fill="none" stroke-linecap="round" stroke-linejoin="round" />
<path d="M267,660.5 L400,738" stroke="#111" stroke-width="1.6" fill="none" stroke-linecap="round" stroke-linejoin="round" />
<path d="M269,664.5 L399,741" stroke="#111" stroke-width="0.8" fill="none" stroke-linecap="round" stroke-linejoin="round" />
<path d="M226,600 L248.4,616.8 L322.7,663.5 L345,675 L372,690 L404,722 L400,738 L232.8,637 L214,632Z" stroke="#111" stroke-width="1.9" fill="#fff" stroke-linecap="round" stroke-linejoin="round" />
<path d="M170.2,575.6 L172.3,575.0 L174.4,574.4 L176.6,573.8 L178.3,573.9 L180.0,574.1 L181.7,574.3 L183.3,574.5 L185.0,574.8 L186.4,575.4 L187.8,576.1 L189.3,576.7 L190.7,577.4 L192.1,578.1 L193.5,578.7 L195.0,579.4 L196.4,580.0 L197.8,580.7 L199.2,581.3 L200.7,582.0 L202.1,582.7 L203.5,583.3 L204.9,584.0 L206.4,584.6 L207.8,585.3 L209.2,586.0 L210.6,586.7 L212.0,587.4 L213.4,588.1 L214.8,588.8 L216.2,589.5 L217.6,590.2 L219.0,590.9 L220.4,591.6 L221.8,592.3 L223.2,593.0 L224.6,593.7 L226.0,594.4 L227.4,595.1 L228.8,595.8 L230.2,596.4 L210.8,631.0 L209.5,630.1 L208.1,629.3 L206.8,628.4 L205.5,627.6 L204.2,626.8 L202.8,625.9 L201.5,625.1 L200.2,624.2 L198.9,623.4 L197.6,622.6 L196.2,621.7 L194.9,620.9 L193.6,620.1 L192.3,619.2 L190.9,618.4 L189.6,617.5 L188.3,616.7 L187.0,615.8 L185.7,614.9 L184.4,614.0 L183.1,613.2 L181.8,612.3 L180.5,611.4 L179.2,610.5 L177.9,609.7 L176.6,608.8 L175.3,607.9 L174.0,607.0 L172.7,606.1 L171.4,605.3 L170.1,604.4 L168.8,603.5 L167.7,602.2 L166.7,600.9 L165.6,599.6 L164.6,598.3 L163.6,596.8 L163.0,594.7 L162.4,592.5 L161.8,590.4Z" stroke="#111" stroke-width="1.0" fill="#fff" stroke-linecap="round" stroke-linejoin="round" />
<g transform="rotate(29.4 168.7 584.5)"><ellipse cx="168.7" cy="584.5" rx="4.0" ry="11.6" stroke="#111" stroke-width="2.5" fill="#fff"/><ellipse cx="170.3" cy="584.5" rx="4.0" ry="10.8" stroke="#111" stroke-width="0.7" fill="#fff"/></g>
<g transform="rotate(29.4 174.2 587.6)"><ellipse cx="174.2" cy="587.6" rx="5.2" ry="15.2" stroke="#111" stroke-width="2.5" fill="#fff"/><ellipse cx="175.8" cy="587.6" rx="5.2" ry="14.4" stroke="#111" stroke-width="0.7" fill="#fff"/></g>
<g transform="rotate(29.4 179.6 590.7)"><ellipse cx="179.6" cy="590.7" rx="5.7" ry="16.8" stroke="#111" stroke-width="2.5" fill="#fff"/><ellipse cx="181.2" cy="590.7" rx="5.7" ry="15.9" stroke="#111" stroke-width="0.7" fill="#fff"/></g>
<g transform="rotate(29.4 185.1 593.7)"><ellipse cx="185.1" cy="593.7" rx="5.9" ry="17.2" stroke="#111" stroke-width="2.5" fill="#fff"/><ellipse cx="186.7" cy="593.7" rx="5.9" ry="16.4" stroke="#111" stroke-width="0.7" fill="#fff"/></g>
<g transform="rotate(29.4 190.5 596.8)"><ellipse cx="190.5" cy="596.8" rx="6.0" ry="17.8" stroke="#111" stroke-width="2.5" fill="#fff"/><ellipse cx="192.1" cy="596.8" rx="6.0" ry="16.9" stroke="#111" stroke-width="0.7" fill="#fff"/></g>
<g transform="rotate(29.4 196.0 599.9)"><ellipse cx="196.0" cy="599.9" rx="6.2" ry="18.2" stroke="#111" stroke-width="2.5" fill="#fff"/><ellipse cx="197.6" cy="599.9" rx="6.2" ry="17.4" stroke="#111" stroke-width="0.7" fill="#fff"/></g>
<g transform="rotate(29.4 201.4 603.0)"><ellipse cx="201.4" cy="603.0" rx="6.3" ry="18.7" stroke="#111" stroke-width="2.5" fill="#fff"/><ellipse cx="203.0" cy="603.0" rx="6.3" ry="17.9" stroke="#111" stroke-width="0.7" fill="#fff"/></g>
<g transform="rotate(29.4 206.9 606.0)"><ellipse cx="206.9" cy="606.0" rx="6.5" ry="19.0" stroke="#111" stroke-width="2.5" fill="#fff"/><ellipse cx="208.5" cy="606.0" rx="6.5" ry="18.2" stroke="#111" stroke-width="0.7" fill="#fff"/></g>
<g transform="rotate(29.4 212.3 609.1)"><ellipse cx="212.3" cy="609.1" rx="6.6" ry="19.3" stroke="#111" stroke-width="2.5" fill="#fff"/><ellipse cx="213.9" cy="609.1" rx="6.6" ry="18.5" stroke="#111" stroke-width="0.7" fill="#fff"/></g>
<g transform="rotate(29.4 217.8 612.2)"><ellipse cx="217.8" cy="612.2" rx="6.7" ry="19.6" stroke="#111" stroke-width="2.5" fill="#fff"/><ellipse cx="219.4" cy="612.2" rx="6.7" ry="18.8" stroke="#111" stroke-width="0.7" fill="#fff"/></g>
<path d="M166,577.5 Q170.5,576.5 172,580.5 L168,591.5 Q163.5,591 163,586.5Z" stroke="#111" stroke-width="1.6" fill="#fff" stroke-linecap="round" stroke-linejoin="round" />
<ellipse cx="221.5" cy="614" rx="7.2" ry="20" stroke="#111" stroke-width="1.4" fill="#fff" transform="rotate(24 221.5 614)" />
<ellipse cx="229.5" cy="617.5" rx="6.6" ry="18.6" stroke="#111" stroke-width="1.8" fill="#fff" transform="rotate(24 229.5 617.5)" />
<path d="M234,607.5 L248.4,616.8 M222,639.5 L232.8,637" stroke="#111" stroke-width="1.6" fill="none" stroke-linecap="round" stroke-linejoin="round" />
<path d="M228.3,613.7 C222,620 217,632 215.6,643 L226.4,652.7 L242,645 L240.5,638 L228.5,645.5 L224.6,639 C225,633 228,626 232,621Z" stroke="#111" stroke-width="1.9" fill="#fff" stroke-linecap="round" stroke-linejoin="round" />
<path d="M215.6,643 L224.6,639 M226.4,652.7 L228.5,645.5" stroke="#111" stroke-width="1.2" fill="none" stroke-linecap="round" stroke-linejoin="round" />
<path d="M238,606 L240,598.5 L243,598.5 L243,604.5 L248,604.5 L250.5,601 L250.5,610 L246,612.5 L240,612" stroke="#111" stroke-width="1.6" fill="#fff" stroke-linecap="round" stroke-linejoin="round" />
<path d="M243.5,613 L248,617 L253,614.5 L262,617.5 L264,621" stroke="#111" stroke-width="1.5" fill="none" stroke-linecap="round" stroke-linejoin="round" />
<path d="M264,628 C264,620 271,616.5 277,619.5 C282,622.5 283,629 282,636" stroke="#111" stroke-width="1.9" fill="none" stroke-linecap="round" stroke-linejoin="round" />
<path d="M268.5,630 C269,624 273,621.5 277,623.5 C280,626 280,631 279.5,636" stroke="#111" stroke-width="1.3" fill="none" stroke-linecap="round" stroke-linejoin="round" />
<path d="M322.7,663.5 L330,661 L338,664" stroke="#111" stroke-width="1.5" fill="none" stroke-linecap="round" stroke-linejoin="round" />
<path d="M339.5,672 C339,665.5 344,662 349,663.5 C353.5,665 355,670 354,675.5" stroke="#111" stroke-width="1.8" fill="#fff" stroke-linecap="round" stroke-linejoin="round" />
<path d="M343,672.5 C343,668 346,666 349,667 C351.5,668.5 352,671 351.5,674" stroke="#111" stroke-width="1.2" fill="none" stroke-linecap="round" stroke-linejoin="round" />
<path d="M354,676 L358,680 L364,679 L365,685 L359,689" stroke="#111" stroke-width="1.4" fill="#fff" stroke-linecap="round" stroke-linejoin="round" />
<path d="M374.0,678.6 C373.1,681.1 370.5,688.5 368.8,693.3 C367.1,698.0 364.5,703.3 363.6,707.1 C362.7,710.8 362.8,713.4 363.3,715.7 C363.7,718.0 363.3,718.3 366.2,720.9 C369.1,723.4 375.3,727.7 380.9,731.2 C386.5,734.7 396.7,740.1 399.8,741.9 L406.7,726.0 L405.0,701.9 L397.2,691.6Z" stroke="#111" stroke-width="2.2" fill="#fff" stroke-linecap="round" stroke-linejoin="round" />
<path d="M397.2,691.6 L416.2,672.6 L414.5,689.8 L406.7,701.9 L405.0,726.0" stroke="#111" stroke-width="1.9" fill="#fff" stroke-linecap="round" stroke-linejoin="round" />
<path d="M374.0,678.6 L394.7,659.7 L416.2,672.6 L397.2,691.6Z" stroke="#111" stroke-width="2.3" fill="#fff" stroke-linecap="round" stroke-linejoin="round" />
<ellipse cx="396.4" cy="676.9" rx="12.6" ry="8.4" stroke="#111" stroke-width="1.3" fill="#fff" transform="rotate(-15 396.4 676.9)" />
<ellipse cx="396.4" cy="678.6" rx="3.8" ry="2.6" stroke="#111" stroke-width="1.8" fill="#fff" />
<path d="M365.3,705.3 L398.1,723.4M364.7,709.1 L397.4,727.4" stroke="#111" stroke-width="2.0" fill="none" stroke-linecap="round" stroke-linejoin="round" />
<path d="M379.1,686.4 L375.7,705.3M385.2,689.5 L381.7,708.8M390.3,691.9 L387.8,712.2M397.2,691.6 L395.0,717.4" stroke="#111" stroke-width="1.9" fill="none" stroke-linecap="round" stroke-linejoin="round" />
<path d="M380.9,694.1 L379.1,701.9 L383.4,696.7M387.8,696.7 L386.0,704.5 L389.5,699.8" stroke="#111" stroke-width="1.3" fill="none" stroke-linecap="round" stroke-linejoin="round" />
<path d="M380.9,715.7 L379.1,730.3M387.8,719.1 L386.0,733.8M396.4,726.0 L395.5,739.5" stroke="#111" stroke-width="1.8" fill="none" stroke-linecap="round" stroke-linejoin="round" />
<path d="M389.5,722.6 C389.2,723.4 387.8,726.0 387.8,727.8 C387.8,729.5 388.6,731.8 389.5,732.9 C390.4,734.1 392.6,734.4 393.3,734.7" stroke="#111" stroke-width="1.2" fill="none" stroke-linecap="round" stroke-linejoin="round" />
<path d="M433.4,674.3 C433.8,672.4 433.9,670.4 436.0,669.1 C438.2,667.8 442.9,666.6 446.4,666.6 C449.8,666.6 454.5,667.8 456.7,669.1 C458.9,670.4 459.2,672.4 459.5,674.3 C459.8,676.2 459.1,678.5 458.4,680.3 C457.8,682.2 457.9,684.2 455.9,685.5 C453.9,686.9 449.5,688.4 446.4,688.4 C443.2,688.4 439.0,686.9 436.9,685.5 C434.8,684.2 434.5,682.2 434.0,680.3 C433.4,678.5 433.1,676.2 433.4,674.3Z" stroke="#111" stroke-width="2.0" fill="#fff" stroke-linecap="round" stroke-linejoin="round" />
<path d="M433.4,674.3 C434.0,675.1 434.7,678.0 436.9,679.1 C439.1,680.3 443.1,681.2 446.4,681.2 C449.7,681.2 454.5,680.3 456.7,679.1 C458.9,678.0 459.0,675.1 459.5,674.3" stroke="#111" stroke-width="1.5" fill="none" stroke-linecap="round" stroke-linejoin="round" />
<path d="M449.0,668.3 L450.7,656.7 L454.7,655.0 L458.8,657.4 L456.7,669.1" stroke="#111" stroke-width="1.8" fill="#fff" stroke-linecap="round" stroke-linejoin="round" />
<path d="M454.7,655.7 L452.9,668.8" stroke="#111" stroke-width="1.0" fill="none" stroke-linecap="round" stroke-linejoin="round" />
<path d="M434.7,663.6 L441.2,660.9 L439.8,664.3Z" stroke="#111" stroke-width="1.2" fill="#111" stroke-linecap="round" stroke-linejoin="round" />
<path d="M429.5,665.3 L414.5,702.8" stroke="#111" stroke-width="3.6" fill="none" stroke-linecap="round" stroke-linejoin="round" />
<path d="M429.5,665.3 L432.9,663.6 L434.7,665.7" stroke="#111" stroke-width="1.5" fill="none" stroke-linecap="round" stroke-linejoin="round" />
<path d="M424.0,690.2 L436.0,683.8 L449.0,690.2 L451.6,696.7 L444.7,701.9 L444.7,714.0 L436.0,719.1 L424.0,714.0 L421.4,701.9Z" stroke="#111" stroke-width="1.9" fill="#fff" stroke-linecap="round" stroke-linejoin="round" />
<path d="M436.0,690.7 L444.7,694.1M449.0,690.2 L454.1,692.4 L455.0,696.7 L451.6,696.7" stroke="#111" stroke-width="2.4" fill="none" stroke-linecap="round" stroke-linejoin="round" />
<path d="M424.0,700.2 L436.0,704.5 L436.0,718.3M427.4,696.7 L437.8,700.5M430.9,707.1 L430.9,715.7" stroke="#111" stroke-width="1.5" fill="none" stroke-linecap="round" stroke-linejoin="round" />
<ellipse cx="432.9310344827586" cy="685.5172413793103" rx="1.7" ry="1.7" stroke="#111" stroke-width="1.0" fill="#fff" />
<ellipse cx="428.7931034482759" cy="691.8965517241379" rx="1.7" ry="1.7" stroke="#111" stroke-width="1.0" fill="#fff" />
<ellipse cx="448.1034482758621" cy="691.8965517241379" rx="1.9" ry="1.9" stroke="#111" stroke-width="1.1" fill="#fff" />
<path d="M406.7,694.1 C406.7,695.4 405.9,699.0 406.4,701.9 C406.9,704.8 408.0,708.6 409.8,711.4 C411.6,714.1 414.1,716.5 417.1,718.3 C420.0,720.1 423.6,721.5 427.4,722.2 C431.2,723.0 437.8,722.8 439.8,722.9 L440.9,727.4 C438.6,727.4 431.7,728.1 427.4,727.4 C423.2,726.8 418.8,725.4 415.3,723.4 C411.9,721.5 408.9,718.7 406.7,715.7 C404.6,712.7 403.2,708.6 402.4,705.3 C401.6,702.0 402.0,697.4 401.9,695.9Z" stroke="#111" stroke-width="2.2" fill="#fff" stroke-linecap="round" stroke-linejoin="round" />
<ellipse cx="439.48275862068965" cy="717.4137931034483" rx="2.2" ry="2.2" stroke="#111" stroke-width="1.3" fill="#fff" />
<ellipse cx="412.7586206896552" cy="690.6896551724138" rx="2.2" ry="1.6" stroke="#111" stroke-width="1.2" fill="#fff" />
<path d="M401.6,741.6 L406.7,726.0 L414.5,726.0 L420.5,727.8 L412.8,738.1 L408.4,750.2" stroke="#111" stroke-width="1.8" fill="#fff" stroke-linecap="round" stroke-linejoin="round" />
<path d="M412.8,738.1 L420.5,727.8 L432.6,731.2 L431.7,741.6 L423.1,764.3 L415.3,766.0 L406.7,757.4Z" stroke="#111" stroke-width="2.4" fill="#fff" stroke-linecap="round" stroke-linejoin="round" />
<path d="M415.3,741.6 L425.7,744.1 L420.5,758.8 L411.0,755.3Z" stroke="#111" stroke-width="1.8" fill="#fff" stroke-linecap="round" stroke-linejoin="round" />
<path d="M411.0,755.3 L414.5,751.0 L419.1,752.2 L420.5,758.8M414.5,751.0 L417.9,742.4M419.1,752.2 L423.6,744.7" stroke="#111" stroke-width="1.3" fill="none" stroke-linecap="round" stroke-linejoin="round" />
<ellipse cx="415.6896551724138" cy="756.7241379310345" rx="1.8" ry="1.2" stroke="#111" stroke-width="0.9" fill="#fff" />
<path d="M417.4,766.4 L417.4,772.2" stroke="#111" stroke-width="2.6" fill="none" stroke-linecap="round" stroke-linejoin="round" />
<g transform="translate(0.8 490.3)">
<path d="M430,243 L441,239 L447,243 L437,272 L428,267Z" stroke="#111" stroke-width="1.6" fill="#fff" stroke-linecap="round" stroke-linejoin="round" />
<ellipse cx="433.5" cy="256" rx="5.4" ry="13.8" stroke="#111" stroke-width="1.5" fill="#fff" transform="rotate(26 433.5 256)" />
<path d="M498,270.5 C505,272.5 510.5,278.5 509.6,284 C508.5,289.5 506,293 503.5,296 C499,301 492,304.5 483,301.2Z" stroke="#111" stroke-width="1.8" fill="#fff" stroke-linecap="round" stroke-linejoin="round" />
<path d="M445.5,245.5 L447.0,245.9 L448.5,246.3 L450.0,246.7 L451.5,247.1 L452.9,247.8 L454.2,248.4 L455.6,249.1 L457.0,249.8 L458.3,250.5 L459.7,251.1 L461.0,251.8 L462.4,252.5 L463.7,253.2 L465.1,253.8 L466.4,254.5 L467.8,255.2 L469.2,255.9 L470.5,256.5 L471.9,257.2 L473.2,257.9 L474.6,258.5 L476.0,259.2 L477.3,259.8 L478.7,260.5 L480.1,261.1 L481.4,261.8 L482.8,262.4 L484.2,263.1 L485.5,263.7 L486.9,264.4 L488.3,265.0 L489.7,265.7 L491.0,266.3 L492.4,267.0 L493.7,267.7 L495.0,268.5 L496.3,269.3 L497.6,270.1 L498.9,270.8 L500.2,271.6 L483.8,301.4 L482.4,300.7 L481.1,300.0 L479.7,299.3 L478.4,298.6 L477.1,298.0 L475.7,297.3 L474.4,296.5 L473.1,295.6 L471.9,294.8 L470.6,294.0 L469.3,293.2 L468.0,292.4 L466.7,291.6 L465.5,290.8 L464.2,290.0 L462.9,289.2 L461.6,288.3 L460.3,287.5 L459.1,286.7 L457.8,285.9 L456.5,285.1 L455.2,284.3 L453.9,283.6 L452.6,282.8 L451.3,282.0 L450.0,281.2 L448.7,280.4 L447.4,279.6 L446.1,278.9 L444.8,278.1 L443.5,277.3 L442.2,276.5 L440.9,275.7 L439.7,274.9 L438.4,274.1 L437.1,273.4 L435.9,272.3 L434.8,271.2 L433.6,270.2 L432.5,269.1Z" stroke="#111" stroke-width="1.0" fill="#fff" stroke-linecap="round" stroke-linejoin="round" />
<g transform="rotate(28.9 441.2 258.5)"><ellipse cx="441.2" cy="258.5" rx="4.8" ry="14.1" stroke="#111" stroke-width="2.2" fill="#fff"/><ellipse cx="442.8" cy="258.5" rx="4.8" ry="13.3" stroke="#111" stroke-width="0.7" fill="#fff"/></g>
<g transform="rotate(28.9 445.6 260.9)"><ellipse cx="445.6" cy="260.9" rx="5.1" ry="15.1" stroke="#111" stroke-width="2.2" fill="#fff"/><ellipse cx="447.2" cy="260.9" rx="5.1" ry="14.3" stroke="#111" stroke-width="0.7" fill="#fff"/></g>
<g transform="rotate(28.9 450.0 263.4)"><ellipse cx="450.0" cy="263.4" rx="5.2" ry="15.3" stroke="#111" stroke-width="2.2" fill="#fff"/><ellipse cx="451.6" cy="263.4" rx="5.2" ry="14.5" stroke="#111" stroke-width="0.7" fill="#fff"/></g>
<g transform="rotate(28.9 454.5 265.8)"><ellipse cx="454.5" cy="265.8" rx="5.3" ry="15.5" stroke="#111" stroke-width="2.2" fill="#fff"/><ellipse cx="456.1" cy="265.8" rx="5.3" ry="14.7" stroke="#111" stroke-width="0.7" fill="#fff"/></g>
<g transform="rotate(28.9 458.9 268.2)"><ellipse cx="458.9" cy="268.2" rx="5.3" ry="15.7" stroke="#111" stroke-width="2.2" fill="#fff"/><ellipse cx="460.5" cy="268.2" rx="5.3" ry="14.9" stroke="#111" stroke-width="0.7" fill="#fff"/></g>
<g transform="rotate(28.9 463.3 270.7)"><ellipse cx="463.3" cy="270.7" rx="5.4" ry="15.9" stroke="#111" stroke-width="2.2" fill="#fff"/><ellipse cx="464.9" cy="270.7" rx="5.4" ry="15.1" stroke="#111" stroke-width="0.7" fill="#fff"/></g>
<g transform="rotate(28.9 467.7 273.1)"><ellipse cx="467.7" cy="273.1" rx="5.5" ry="16.2" stroke="#111" stroke-width="2.2" fill="#fff"/><ellipse cx="469.3" cy="273.1" rx="5.5" ry="15.4" stroke="#111" stroke-width="0.7" fill="#fff"/></g>
<g transform="rotate(28.9 472.1 275.6)"><ellipse cx="472.1" cy="275.6" rx="5.6" ry="16.5" stroke="#111" stroke-width="2.2" fill="#fff"/><ellipse cx="473.7" cy="275.6" rx="5.6" ry="15.7" stroke="#111" stroke-width="0.7" fill="#fff"/></g>
<g transform="rotate(28.9 476.5 278.0)"><ellipse cx="476.5" cy="278.0" rx="5.7" ry="16.8" stroke="#111" stroke-width="2.2" fill="#fff"/><ellipse cx="478.1" cy="278.0" rx="5.7" ry="16.0" stroke="#111" stroke-width="0.7" fill="#fff"/></g>
<g transform="rotate(28.9 481.0 280.4)"><ellipse cx="481.0" cy="280.4" rx="5.8" ry="17.1" stroke="#111" stroke-width="2.2" fill="#fff"/><ellipse cx="482.6" cy="280.4" rx="5.8" ry="16.3" stroke="#111" stroke-width="0.7" fill="#fff"/></g>
<g transform="rotate(28.9 485.4 282.9)"><ellipse cx="485.4" cy="282.9" rx="5.9" ry="17.2" stroke="#111" stroke-width="2.2" fill="#fff"/><ellipse cx="487.0" cy="282.9" rx="5.9" ry="16.4" stroke="#111" stroke-width="0.7" fill="#fff"/></g>
<g transform="rotate(28.9 489.8 285.3)"><ellipse cx="489.8" cy="285.3" rx="5.8" ry="17.1" stroke="#111" stroke-width="2.2" fill="#fff"/><ellipse cx="491.4" cy="285.3" rx="5.8" ry="16.3" stroke="#111" stroke-width="0.7" fill="#fff"/></g>
<ellipse cx="505" cy="291.5" rx="2.2" ry="3.8" stroke="#111" stroke-width="1.2" fill="#fff" transform="rotate(26 505 291.5)" />
<path d="M505,289 L520,299.5 L517.5,305.5 L503.5,295Z" stroke="#111" stroke-width="1.4" fill="#fff" stroke-linecap="round" stroke-linejoin="round" />
<path d="M520,299.5 L531,305 Q533.5,308 532,312 L529.5,315 L517.5,305.5Z" stroke="#111" stroke-width="1.7" fill="#fff" stroke-linecap="round" stroke-linejoin="round" />
</g>
<path d="M532.0,796.0 C533.2,797.6 535.7,799.3 537.0,803.0 C538.3,806.7 536.6,807.8 537.5,812.0 C538.4,816.2 537.9,816.8 541.0,821.0 C544.1,825.2 545.2,826.4 551.0,830.0 C556.8,833.6 558.8,834.2 566.0,836.5 C573.2,838.8 578.3,839.2 582.0,840.0 L582.0,848.0 C577.8,847.4 571.9,847.5 564.0,845.5 C556.1,843.5 554.5,843.1 548.0,839.5 C541.5,835.9 540.1,835.0 536.0,830.0 C531.9,825.0 532.0,823.1 530.5,818.0 C529.0,812.9 529.7,810.3 529.5,808.0Z" stroke="#111" stroke-width="1.8" fill="#fff" stroke-linecap="round" stroke-linejoin="round" />
<path d="M581,848 C581,853.5 585,855.5 592,855.5 C598,855.5 602,853 601.5,848.5" stroke="#111" stroke-width="1.7" fill="#fff" stroke-linecap="round" stroke-linejoin="round" />
<ellipse cx="591.5" cy="844.3" rx="12" ry="6.2" stroke="#111" stroke-width="2.0" fill="#fff" />
<path d="M587.3,838 L587.3,816 Q591.0,812.5 594.7,816 L594.7,838 Z" stroke="#111" stroke-width="1.5" fill="#fff" stroke-linecap="round" stroke-linejoin="round" />
<line x1="587.5999999999999" y1="817.5" x2="594.4000000000001" y2="817.5" stroke="#111" stroke-width="1.1" />
<line x1="587.5999999999999" y1="819.5" x2="594.4000000000001" y2="819.5" stroke="#111" stroke-width="1.1" />
<line x1="587.5999999999999" y1="821.5" x2="594.4000000000001" y2="821.5" stroke="#111" stroke-width="1.1" />
<line x1="587.5999999999999" y1="823.5" x2="594.4000000000001" y2="823.5" stroke="#111" stroke-width="1.1" />
<line x1="587.5999999999999" y1="825.5" x2="594.4000000000001" y2="825.5" stroke="#111" stroke-width="1.1" />
<line x1="587.5999999999999" y1="827.5" x2="594.4000000000001" y2="827.5" stroke="#111" stroke-width="1.1" />
<line x1="587.5999999999999" y1="829.5" x2="594.4000000000001" y2="829.5" stroke="#111" stroke-width="1.1" />
<line x1="587.5999999999999" y1="831.5" x2="594.4000000000001" y2="831.5" stroke="#111" stroke-width="1.1" />
<line x1="587.5999999999999" y1="833.5" x2="594.4000000000001" y2="833.5" stroke="#111" stroke-width="1.1" />
<line x1="587.5999999999999" y1="835.5" x2="594.4000000000001" y2="835.5" stroke="#111" stroke-width="1.1" />
<line x1="587.5999999999999" y1="837.5" x2="594.4000000000001" y2="837.5" stroke="#111" stroke-width="1.1" />
<line x1="590.8" y1="803" x2="590.8" y2="813.5" stroke="#111" stroke-width="0.9" />
<ellipse cx="590.8" cy="798.8" rx="7.920000000000001" ry="3.9600000000000004" stroke="#111" stroke-width="1.5" fill="#fff" />
<path d="M585.74,797.7 L585.74,792.2 Q590.8,788.35 595.8599999999999,792.2 L595.8599999999999,797.7 Q590.8,801.0 585.74,797.7Z" stroke="#111" stroke-width="1.4" fill="#fff" stroke-linecap="round" stroke-linejoin="round" />
<ellipse cx="590.8" cy="792.64" rx="2.8600000000000003" ry="1.7600000000000002" stroke="#111" stroke-width="1.2" fill="#fff" />
<line x1="588.8199999999999" y1="795.72" x2="588.8199999999999" y2="799.24" stroke="#111" stroke-width="0.7" />
<line x1="592.78" y1="795.72" x2="592.78" y2="799.24" stroke="#111" stroke-width="0.7" />
<line x1="590.8" y1="783" x2="590.8" y2="790" stroke="#111" stroke-width="0.9" />
<line x1="169" y1="605.2" x2="217" y2="579.6" stroke="#fff" stroke-width="7.4" />
<line x1="133.5" y1="624.2" x2="224.6" y2="575.8" stroke="#111" stroke-width="4.7" stroke-dasharray="16.8 3.9" stroke-dashoffset="7.5"/>
<path d="M132.3,620 Q132.3,625 135.5,624" stroke="#111" stroke-width="1.2" fill="none" stroke-linecap="round" stroke-linejoin="round" />
<path d="M223,575.8 Q226.5,574.8 226.5,579" stroke="#111" stroke-width="1.2" fill="none" stroke-linecap="round" stroke-linejoin="round" />
<line x1="226.7" y1="579" x2="226.7" y2="606" stroke="#111" stroke-width="0.9" />
<line x1="226.7" y1="612" x2="226.7" y2="671" stroke="#111" stroke-width="0.9" />
<rect x="22" y="610.8" width="40" height="36.8" fill="#fa8c8c"/>
<text x="39" y="634.4" font-size="16.5" fill="#8a1010">5</text>
<line x1="54.7" y1="630.5" x2="62" y2="630.5" stroke="#8a1010" stroke-width="1" />
<line x1="62" y1="630.5" x2="85.7" y2="630.5" stroke="#111" stroke-width="1" />
<line x1="112.6" y1="621.3" x2="161" y2="594.3" stroke="#111" stroke-width="0.9" />
<ellipse cx="96.6" cy="631.3" rx="11" ry="10.6" stroke="#111" stroke-width="1.6" fill="#fff" />
<ellipse cx="101.6" cy="631.5" rx="6.8" ry="9.2" stroke="#111" stroke-width="1.4" fill="#fff" transform="rotate(8 101.6 631.5)" />
<path d="M98.1,639.3 A7.5,9.5 0 0 0 107.6,628.8" stroke="#111" stroke-width="0.8" fill="none" stroke-linecap="round" stroke-linejoin="round" />
<path d="M91.1,622.0 L92.6,617.3 L97.39999999999999,618.5 L98.6,615.0999999999999 L101.6,614.6999999999999 L103.1,618.0999999999999 L107.1,617.6999999999999 L107.1,621.6999999999999 L100.6,621.0 L97.6,621.8Z" stroke="#111" stroke-width="1.5" fill="#fff" stroke-linecap="round" stroke-linejoin="round" />
<path d="M94.6,619.0 L104.6,620.8 M97.39999999999999,618.5 L99.1,621.5 M103.1,618.0999999999999 L102.1,621.0" stroke="#111" stroke-width="1.0" fill="none" stroke-linecap="round" stroke-linejoin="round" />
<line x1="175.2" y1="657.8" x2="212" y2="636" stroke="#111" stroke-width="0.9" />
<ellipse cx="152.1" cy="665.2" rx="17.5" ry="18.8" stroke="#111" stroke-width="1.6" fill="#fff" transform="rotate(8 152.1 665.2)" />
<ellipse cx="157.6" cy="665.6" rx="13.4" ry="17.3" stroke="#111" stroke-width="1.4" fill="#fff" transform="rotate(8 157.6 665.6)" />
<path d="M150.1,678.7 A15.5,17 0 0 0 169.1,661.7" stroke="#111" stroke-width="1.0" fill="none" stroke-linecap="round" stroke-linejoin="round" />
<path d="M151.6,676.7 A14,15.5 0 0 0 167.6,662.2" stroke="#111" stroke-width="0.7" fill="none" stroke-linecap="round" stroke-linejoin="round" />
<path d="M144.1,649.2 L144.6,640.7 L149.6,638.4000000000001 L154.1,640.4000000000001 L154.1,652.2 L149.1,653.7Z" stroke="#111" stroke-width="1.6" fill="#fff" stroke-linecap="round" stroke-linejoin="round" />
<path d="M144.6,640.7 L149.1,642.9000000000001 L149.1,653.7 M149.1,642.9000000000001 L154.1,640.4000000000001" stroke="#111" stroke-width="1.0" fill="none" stroke-linecap="round" stroke-linejoin="round" />
<ellipse cx="146.79999999999998" cy="647.2" rx="1.5" ry="1.7" stroke="#111" stroke-width="0.9" fill="#fff" />
<path d="M153.1,639.7 L153.6,634.4000000000001 L158.1,633.2 L163.29999999999998,635.7 L163.1,645.7 L158.1,648.7 L154.1,647.2" stroke="#111" stroke-width="1.6" fill="#fff" stroke-linecap="round" stroke-linejoin="round" />
<path d="M153.6,634.4000000000001 L158.29999999999998,636.6 L158.1,648.7 M158.29999999999998,636.6 L163.29999999999998,635.7" stroke="#111" stroke-width="1.0" fill="none" stroke-linecap="round" stroke-linejoin="round" />
<path d="M160.1,647.7 C166.1,650.2 170.1,653.2 171.29999999999998,657.2" stroke="#111" stroke-width="1.3" fill="none" stroke-linecap="round" stroke-linejoin="round" />
<rect x="165" y="669.5" width="19.5" height="15" fill="#fff"/>
<line x1="104" y1="669" x2="135.4" y2="669" stroke="#111" stroke-width="1" />
<text x="88.8" y="673.4" font-size="16.5" text-anchor="start" fill="#000" >6</text>
<path d="M221.4,678.3 L222.0,682.6999999999999 Q227.4,686.0999999999999 232.8,682.6999999999999 L233.4,678.3Z" stroke="#111" stroke-width="1.5" fill="#fff" stroke-linecap="round" stroke-linejoin="round" />
<line x1="224.8" y1="679.3" x2="224.8" y2="684.3" stroke="#111" stroke-width="0.8" />
<line x1="230.0" y1="679.3" x2="230.0" y2="684.3" stroke="#111" stroke-width="0.8" />
<ellipse cx="227.4" cy="675.3" rx="7.4" ry="4.0" stroke="#111" stroke-width="1.9" fill="#fff" />
<ellipse cx="227.4" cy="675.3" rx="3.6" ry="1.8" stroke="#111" stroke-width="1.3" fill="#fff" />
<line x1="227.2" y1="664" x2="227.2" y2="675.6" stroke="#555" stroke-width="1.3" />
<line x1="227.2" y1="685.8" x2="227.2" y2="692" stroke="#555" stroke-width="1.3" />
<line x1="189.5" y1="677.5" x2="218" y2="677.5" stroke="#111" stroke-width="1" />
<text x="166.3" y="683.6" font-size="16.5" text-anchor="start" fill="#000" >10</text>
<line x1="337.7" y1="702.7" x2="337.7" y2="735.5" stroke="#111" stroke-width="1" />
<text x="333.5" y="751" font-size="16.5" text-anchor="start" fill="#000" >4</text>
<path d="M322,608.4 L342,608.4 L342,643 L338.3,643 L338.3,663.5 L330,643 L297.5,643 L297.5,631.2 L281,620.4 L297.5,621.6" stroke="#111" stroke-width="1.7" fill="#fff" stroke-linecap="round" stroke-linejoin="round" />
<text x="298.3" y="621.8" font-size="16.5" text-anchor="start" fill="#000" >27</text>
<path d="M325,619 C330.5,618.5 334,622.5 333.5,627 C333,631.5 329,633.5 325.5,632.5 C322.5,631.5 320.5,629 320,626.5" stroke="#111" stroke-width="1.9" fill="none" stroke-linecap="round" stroke-linejoin="round" />
<path d="M571,589.9 L595.2,589.9 L595.2,635 L578,635 L598.3,702 L568.3,635 L547.2,635 L547.2,591" stroke="#111" stroke-width="1.6" fill="#fff" stroke-linecap="round" stroke-linejoin="round" />
<text x="548.7" y="602.8" font-size="16.5" text-anchor="start" fill="#000" >25</text>
<path d="M566.5,610.5 C564.5,615 566,620 570,622 C574,623.5 578,620.5 578.5,616 C579,612.5 577,609.5 574.5,608" stroke="#111" stroke-width="1.8" fill="none" stroke-linecap="round" stroke-linejoin="round" />
<path d="M517.3,641.5 C518.8,640.3 523.2,635.5 526.3,634.6 C529.5,633.6 533.3,634.2 536.2,635.9 C539.2,637.6 542.5,641.1 544.1,644.8 C545.8,648.5 546.6,653.0 546.1,658.0 C545.7,662.9 543.3,669.5 541.5,674.5 C539.7,679.4 536.4,685.5 535.4,687.7" stroke="#111" stroke-width="4.8" fill="none" stroke-linecap="round" stroke-linejoin="round" />
<path d="M517.3,641.5 C518.8,640.3 523.2,635.5 526.3,634.6 C529.5,633.6 533.3,634.2 536.2,635.9 C539.2,637.6 542.5,641.1 544.1,644.8 C545.8,648.5 546.6,653.0 546.1,658.0 C545.7,662.9 543.3,669.5 541.5,674.5 C539.7,679.4 536.4,685.5 535.4,687.7" stroke="#fff" stroke-width="2.2" fill="none" stroke-linecap="round" stroke-linejoin="round" />
<path d="M499.6,644.8 C500.4,642.9 502.9,641.1 504.9,640.2 C506.9,639.2 509.6,638.9 511.5,639.0 C513.4,639.1 515.5,639.6 516.4,640.7 C517.4,641.8 517.9,644.0 517.3,645.6 C516.6,647.3 514.4,649.3 512.3,650.6 C510.3,651.9 506.9,653.2 504.9,653.4 C502.9,653.5 501.2,652.8 500.3,651.4 C499.4,650.0 498.8,646.7 499.6,644.8Z" stroke="#111" stroke-width="1.7" fill="#fff" stroke-linecap="round" stroke-linejoin="round" />
<path d="M499.6,644.8 L505.2,647.3 L504.9,653.4M505.2,647.3 L511.5,643.5 L516.4,640.7M511.5,643.5 L512.3,650.6" stroke="#111" stroke-width="1.1" fill="none" stroke-linecap="round" stroke-linejoin="round" />
<path d="M510.7,639.8 L512.3,643.1M513.5,639.5 L515.1,642.5" stroke="#111" stroke-width="1.5" fill="none" stroke-linecap="round" stroke-linejoin="round" />
<path d="M502.4,694.3 C501.9,695.1 499.8,697.0 499.1,699.2 C498.5,701.4 498.1,705.0 498.6,707.5 C499.2,709.9 501.4,713.5 502.4,714.1 C503.5,714.6 504.5,711.3 504.9,710.8" stroke="#111" stroke-width="1.6" fill="none" stroke-linecap="round" stroke-linejoin="round" />
<ellipse cx="501.59630606860156" cy="704.9802110817942" rx="2.2" ry="3.2" stroke="#111" stroke-width="1.4" fill="#fff" />
<path d="M499.1,678.1 L502.4,680.2 L501.3,682.7Z" stroke="#111" stroke-width="1.0" fill="#111" stroke-linecap="round" stroke-linejoin="round" />
<path d="M511.5,695.9 L509.0,710.8 L511.5,714.9 L515.6,715.4 L522.7,705.8 L523.0,699.2Z" stroke="#111" stroke-width="1.7" fill="#fff" stroke-linecap="round" stroke-linejoin="round" />
<path d="M510.2,702.5 L519.7,707.5M509.5,706.6 L517.3,710.8M509.5,710.8 L514.8,714.1" stroke="#111" stroke-width="1.0" fill="none" stroke-linecap="round" stroke-linejoin="round" />
<ellipse cx="523.9" cy="692.4" rx="14" ry="8.0" stroke="#111" stroke-width="1.7" fill="#fff" transform="rotate(25 523.9 692.4)" />
<ellipse cx="524.3" cy="690.2" rx="14" ry="8.0" stroke="#111" stroke-width="1.6" fill="#fff" transform="rotate(25 524.3 690.2)" />
<ellipse cx="524.8" cy="689.6" rx="11" ry="5.8" stroke="#111" stroke-width="0.9" fill="#fff" transform="rotate(25 524.8 689.6)" />
<path d="M530.5,690.1 L536.2,694.3 L538.2,697.6M528.8,684.4 L537.1,689.3" stroke="#111" stroke-width="1.6" fill="none" stroke-linecap="round" stroke-linejoin="round" />
<path d="M557.7,699.2 L584.1,690.1 584.1,690.1 C585.1,690.4 589.1,690.3 590.6,691.8 C592.2,693.3 593.1,696.6 593.6,699.2 C594.2,701.8 594.2,705.0 593.9,707.5 C593.7,709.9 592.6,713.0 592.3,714.1 L567.6,723.9Z" stroke="#111" stroke-width="1.6" fill="#fff" stroke-linecap="round" stroke-linejoin="round" />
<ellipse cx="587.3" cy="702.5" rx="5.8" ry="12.4" stroke="#111" stroke-width="1.3" fill="none" transform="rotate(12 587.3 702.5)" />
<ellipse cx="589.5" cy="702.5" rx="4.2" ry="10.5" stroke="#111" stroke-width="0.9" fill="none" transform="rotate(12 589.5 702.5)" />
<path d="M577.5,692.6 L579.9,717.3M572.5,694.3 L574.5,719.8" stroke="#111" stroke-width="0.9" fill="none" stroke-linecap="round" stroke-linejoin="round" />
<path d="M558.5,700.0 L576.6,687.7 L578.3,689.6 L560.1,702.8Z" stroke="#111" stroke-width="1.4" fill="#fff" stroke-linecap="round" stroke-linejoin="round" />
<ellipse cx="556" cy="717.6" rx="10.2" ry="19.4" stroke="#111" stroke-width="1.8" fill="#fff" transform="rotate(-30 556 717.6)" />
<ellipse cx="554.6" cy="719" rx="8.4" ry="16.4" stroke="#111" stroke-width="1.0" fill="#fff" transform="rotate(-30 554.6 719)" />
<ellipse cx="553.5" cy="720.2" rx="7.4" ry="10.8" stroke="#111" stroke-width="1.5" fill="#fff" transform="rotate(-25 553.5 720.2)" />
<ellipse cx="548.1002638522427" cy="706.1345646437994" rx="1.7" ry="1.7" stroke="#111" stroke-width="1.2" fill="#fff" />
<ellipse cx="563.4366754617414" cy="733.8390501319261" rx="1.7" ry="1.7" stroke="#111" stroke-width="1.2" fill="#fff" />
<path d="M573.8,722.3 C574.6,720.6 575.7,718.5 577.5,717.3 C579.2,716.2 582.1,715.2 584.1,715.4 C586.0,715.5 588.3,716.7 589.3,718.2 C590.4,719.6 590.6,721.9 590.3,723.9 C590.0,726.0 588.9,728.8 587.3,730.5 C585.8,732.2 582.8,733.9 580.8,734.2 C578.7,734.4 576.3,733.3 575.0,732.2 C573.7,731.0 573.0,728.9 572.8,727.2 C572.6,725.6 573.1,723.9 573.8,722.3Z" stroke="#111" stroke-width="1.6" fill="#fff" stroke-linecap="round" stroke-linejoin="round" />
<ellipse cx="578.278364116095" cy="727.2427440633245" rx="4.6" ry="6.6" stroke="#111" stroke-width="1.2" fill="#fff" transform="rotate(-25 578.278364116095 727.2427440633245)" />
<path d="M589.0,717.3 L594.8,714.9 L595.9,717.3 L590.3,720.6" stroke="#111" stroke-width="1.3" fill="#fff" stroke-linecap="round" stroke-linejoin="round" />
<path d="M570.0,714.9 L574.2,717.3M569.2,718.2 L572.5,720.6" stroke="#111" stroke-width="1.2" fill="none" stroke-linecap="round" stroke-linejoin="round" />
<line x1="520.8" y1="611" x2="520.8" y2="634" stroke="#111" stroke-width="1" />
<text x="517.3" y="604.5" font-size="16.5" text-anchor="start" fill="#000" >7</text>
<line x1="541.5" y1="729.7" x2="549.4" y2="729.7" stroke="#111" stroke-width="1" />
<text x="518.6" y="735.7" font-size="16.5" text-anchor="start" fill="#000" >7a</text>
<line x1="467.7" y1="666.4" x2="502.3" y2="681.3" stroke="#111" stroke-width="3.4" stroke-dasharray="12 3.5"/>
<line x1="443" y1="694.5" x2="472.6" y2="707.7" stroke="#111" stroke-width="3.4" stroke-dasharray="12 3.5"/>
<line x1="467.7" y1="666.4" x2="472.6" y2="707.7" stroke="#111" stroke-width="0.9" />
<line x1="502.3" y1="681.3" x2="510.6" y2="722.5" stroke="#111" stroke-width="0.9" />
<g transform="translate(2 488.7)">
<path d="M395.6,385.0 C394.6,385.6 392.8,385.6 390.5,388.8 C388.2,392.1 383.3,400.9 380.3,406.6 C377.2,412.4 371.4,423.0 370.1,427.0 C368.8,431.0 369.8,431.9 371.4,433.4 C372.9,434.9 376.3,435.5 380.3,437.2 C384.3,438.9 393.7,442.6 398.1,444.9 C402.5,447.2 406.7,450.0 409.6,452.5 C412.5,455.0 415.1,460.1 417.2,461.4 C419.3,462.8 420.0,463.0 423.6,461.4 C427.2,459.9 435.0,454.5 441.5,451.2 C448.0,448.0 460.1,442.3 466.9,439.8 C473.8,437.3 482.0,436.6 487.3,434.7 C492.7,432.8 499.6,428.9 502.6,427.0 C505.7,425.1 505.4,423.3 507.7,421.9 C510.0,420.6 515.2,419.8 517.9,418.1 C520.6,416.4 524.1,413.7 525.6,410.5 C527.0,407.2 528.0,400.8 527.6,396.5 C527.2,392.1 524.8,385.4 523.0,381.2 C521.2,377.0 517.7,371.9 515.4,368.4 C513.1,365.0 509.4,361.7 507.7,358.2 C506.0,354.8 505.0,348.9 503.9,345.5 C502.7,342.0 501.8,338.0 500.1,335.3 C498.3,332.6 494.7,329.2 492.4,327.6 C490.1,326.1 486.7,325.1 484.8,325.1 C482.9,325.1 481.0,326.1 479.7,327.6 C478.3,329.2 477.0,332.2 475.9,335.3 C474.7,338.3 472.8,344.8 472.0,348.0 C471.3,351.3 472.3,354.7 470.8,357.0 C469.2,359.2 464.7,361.2 461.8,363.3 C459.0,365.4 454.1,368.7 451.6,371.0 C449.2,373.3 447.0,376.9 445.3,378.6 C443.6,380.3 441.3,382.2 440.2,382.4 C439.0,382.6 438.6,380.1 437.6,379.9 C436.7,379.7 435.1,380.4 433.8,381.2 C432.5,381.9 431.0,384.0 428.7,385.0 C426.4,385.9 422.0,387.3 418.5,387.5 C415.1,387.8 409.0,387.2 405.8,386.8 C402.5,386.4 398.4,385.3 396.9,385.0 C395.3,384.7 396.5,384.4 395.6,385.0Z" stroke="#111" stroke-width="2.1" fill="#fff" stroke-linecap="round" stroke-linejoin="round" />
<path d="M393.5,389.3 C391.8,392.4 386.7,401.5 383.3,407.9 C380.0,414.3 375.0,423.5 373.7,427.5 C372.3,431.6 374.9,431.4 375.2,432.1" stroke="#111" stroke-width="0.9" fill="none" stroke-linecap="round" stroke-linejoin="round" />
<path d="M396.9,388.8 L403.2,390.1 L405.8,406.6 L416.0,415.6 L424.9,414.8 L433.8,407.9" stroke="#111" stroke-width="1.1" fill="none" stroke-linecap="round" stroke-linejoin="round" />
<path d="M433.8,407.9 L436.9,402.8 L461.8,391.4 L469.5,396.5 L477.1,401.5 L474.6,405.4 L465.7,410.5 L454.2,405.4 L446.5,407.9Z" stroke="#111" stroke-width="1.1" fill="#fff" stroke-linecap="round" stroke-linejoin="round" />
<path d="M431.3,414.3 C434.3,413.4 444.6,411.5 447.8,411.7 C451.1,412.0 450.6,414.3 450.6,415.6 C450.6,416.8 450.8,418.7 447.8,419.4 C444.8,420.1 435.5,420.3 432.5,419.9 C429.5,419.5 429.9,418.0 429.7,417.1 C429.5,416.2 428.2,415.2 431.3,414.3Z" stroke="#111" stroke-width="1.1" fill="#fff" stroke-linecap="round" stroke-linejoin="round" />
<path d="M371.4,429.6 L407.0,410.5M375.2,433.9 L410.4,415.6" stroke="#111" stroke-width="0.9" fill="none" stroke-linecap="round" stroke-linejoin="round" />
<path d="M398.1,444.9 L433.8,421.9M451.6,413.0 L465.7,410.5" stroke="#111" stroke-width="0.9" fill="none" stroke-linecap="round" stroke-linejoin="round" />
<path d="M481.0,401.5 L503.9,389.3" stroke="#111" stroke-width="0.9" fill="none" stroke-linecap="round" stroke-linejoin="round" />
<path d="M417.2,460.9 C418.1,458.7 418.3,451.7 422.3,447.4 C426.4,443.1 434.0,438.5 441.5,435.2 C448.9,431.9 460.6,429.4 466.9,427.5 C473.3,425.7 477.6,424.6 479.7,424.0" stroke="#111" stroke-width="0.9" fill="none" stroke-linecap="round" stroke-linejoin="round" />
<path d="M409.6,452.5 C414.9,449.1 430.2,437.7 441.5,432.1 C452.7,426.5 471.2,421.1 477.1,418.9" stroke="#111" stroke-width="0.9" fill="none" stroke-linecap="round" stroke-linejoin="round" />
<path d="M502.6,427.0 C502.2,426.4 497.5,424.7 500.1,423.2 C502.6,421.7 514.9,419.0 517.9,418.1" stroke="#111" stroke-width="0.9" fill="none" stroke-linecap="round" stroke-linejoin="round" />
<path d="M489.9,348.0 C490.7,350.2 493.7,356.5 495.0,360.8 C496.2,365.0 497.7,369.3 497.5,373.5 C497.3,377.8 495.8,382.9 493.7,386.3 C491.6,389.7 488.0,392.2 484.8,393.9 C481.6,395.6 476.3,396.0 474.6,396.5" stroke="#111" stroke-width="1.0" fill="none" stroke-linecap="round" stroke-linejoin="round" />
<path d="M493.7,350.6 C494.8,352.7 499.1,359.3 500.6,363.3 C502.1,367.4 503.0,370.3 502.6,374.8 C502.2,379.3 500.5,386.2 498.0,390.1 C495.6,393.9 489.5,396.7 487.8,398.0" stroke="#111" stroke-width="1.0" fill="none" stroke-linecap="round" stroke-linejoin="round" />
<path d="M473.3,374.8 L474.6,390.1" stroke="#111" stroke-width="1.0" fill="none" stroke-linecap="round" stroke-linejoin="round" />
<path d="M475.9,335.8 L484.8,348.0 L504.7,357.7" stroke="#111" stroke-width="0.9" fill="none" stroke-linecap="round" stroke-linejoin="round" />
<path d="M451.6,371.0 L469.5,386.8 L469.5,396.5" stroke="#111" stroke-width="0.9" fill="none" stroke-linecap="round" stroke-linejoin="round" />
<ellipse cx="495.47910295616714" cy="339.8776758409786" rx="2.2" ry="3.6" stroke="#111" stroke-width="1.2" fill="#fff" transform="rotate(15 495.47910295616714 339.8776758409786)" />
<ellipse cx="449.0978593272171" cy="387.53312945973494" rx="3.6" ry="2.2" stroke="#111" stroke-width="1.1" fill="#fff" />
<ellipse cx="417.2426095820591" cy="407.41080530071355" rx="3.4" ry="2.2" stroke="#111" stroke-width="1.1" fill="#fff" />
<ellipse cx="396.0907237512742" cy="398.49133537206933" rx="3.0" ry="4.4" stroke="#111" stroke-width="1.2" fill="#fff" transform="rotate(15 396.0907237512742 398.49133537206933)" />
<path d="M392.5,402.8 L400.7,401.0" stroke="#111" stroke-width="0.8" fill="none" stroke-linecap="round" stroke-linejoin="round" />
<ellipse cx="489.8725790010194" cy="426.01427115188585" rx="9.6" ry="6.2" stroke="#111" stroke-width="1.2" fill="#fff" />
<ellipse cx="489.8725790010194" cy="423.97553516819573" rx="6.6" ry="4.4" stroke="#111" stroke-width="1.3" fill="#fff" />
<path d="M490.4,437.7 L492.4,437.7" stroke="#111" stroke-width="1.0" fill="none" stroke-linecap="round" stroke-linejoin="round" />
</g>
<line x1="460.2" y1="819.5" x2="460.2" y2="831" stroke="#111" stroke-width="4.6" />
<line x1="460.2" y1="833.8" x2="460.2" y2="846.5" stroke="#111" stroke-width="4.6" />
<line x1="627.3" y1="752" x2="460.7" y2="847.2" stroke="#111" stroke-width="0.9" />
<line x1="418.7" y1="769" x2="418.7" y2="894" stroke="#111" stroke-width="0.9" />
<path d="M411.9,963.6 L412.5,968.0 Q417.9,971.4 423.29999999999995,968.0 L423.9,963.6Z" stroke="#111" stroke-width="1.5" fill="#fff" stroke-linecap="round" stroke-linejoin="round" />
<line x1="415.29999999999995" y1="964.6" x2="415.29999999999995" y2="969.6" stroke="#111" stroke-width="0.8" />
<line x1="420.5" y1="964.6" x2="420.5" y2="969.6" stroke="#111" stroke-width="0.8" />
<ellipse cx="417.9" cy="960.6" rx="7.4" ry="4.0" stroke="#111" stroke-width="1.9" fill="#fff" />
<ellipse cx="417.9" cy="960.6" rx="3.6" ry="1.8" stroke="#111" stroke-width="1.3" fill="#fff" />
<line x1="417.6" y1="950.5" x2="417.6" y2="961" stroke="#555" stroke-width="1.3" />
<line x1="417.6" y1="970.5" x2="417.6" y2="977" stroke="#555" stroke-width="1.3" />
<line x1="382" y1="961.5" x2="410.4" y2="961.5" stroke="#111" stroke-width="1" />
<text x="355.5" y="968.6" font-size="16.5" text-anchor="start" fill="#000" >10</text>
<line x1="354.5" y1="925.3" x2="381.4" y2="925.3" stroke="#111" stroke-width="1" />
<text x="331.5" y="932.2" font-size="16.5" text-anchor="start" fill="#000" >14</text>
<g transform="translate(356 862.3) rotate(25.8) scale(1.0)">
<path d="M-2,-6.6 L-10.5,-6 Q-13.2,0 -10.5,6 L-2,6.6Z" stroke="#111" stroke-width="1.5" fill="#fff" stroke-linecap="round" stroke-linejoin="round" />
<path d="M-11.5,-2.4 L-2,-2.6 M-11.5,2.4 L-2,2.6" stroke="#111" stroke-width="0.8" fill="none" stroke-linecap="round" stroke-linejoin="round" />
<path d="M2,-3.7 L20.5,-3.7 Q23.5,0 20.5,3.7 L2,3.7Z" stroke="#111" stroke-width="1.1" fill="#fff" stroke-linecap="round" stroke-linejoin="round" />
<line x1="7.5" y1="-3.7" x2="8.6" y2="3.7" stroke="#111" stroke-width="1.15" />
<line x1="9.6" y1="-3.7" x2="10.7" y2="3.7" stroke="#111" stroke-width="1.15" />
<line x1="11.7" y1="-3.7" x2="12.799999999999999" y2="3.7" stroke="#111" stroke-width="1.15" />
<line x1="13.8" y1="-3.7" x2="14.9" y2="3.7" stroke="#111" stroke-width="1.15" />
<line x1="15.9" y1="-3.7" x2="17.0" y2="3.7" stroke="#111" stroke-width="1.15" />
<line x1="18.0" y1="-3.7" x2="19.1" y2="3.7" stroke="#111" stroke-width="1.15" />
<ellipse cx="0" cy="0" rx="4.4" ry="9.3" stroke="#111" stroke-width="1.9" fill="#fff" />
<ellipse cx="2.2" cy="0" rx="2.2" ry="3.8" stroke="#111" stroke-width="1.0" fill="#fff" />
<path d="M2.4,-3.7 L7,-3.7 M2.4,3.7 L7,3.7" stroke="#111" stroke-width="1.0" fill="none" stroke-linecap="round" stroke-linejoin="round" />
<rect x="2.6" y="-3.2" width="4.6" height="6.4" fill="#fff"/>
</g>
<line x1="377" y1="874.5" x2="393.8" y2="885.7" stroke="#111" stroke-width="0.8" />
<line x1="369" y1="829.8" x2="369" y2="863" stroke="#111" stroke-width="1" />
<text x="360.8" y="823.2" font-size="16.5" text-anchor="start" fill="#000" >15</text>
<g transform="translate(647.5 740.3) rotate(150.6) scale(1.0)">
<path d="M-2,-6.6 L-10.5,-6 Q-13.2,0 -10.5,6 L-2,6.6Z" stroke="#111" stroke-width="1.5" fill="#fff" stroke-linecap="round" stroke-linejoin="round" />
<path d="M-11.5,-2.4 L-2,-2.6 M-11.5,2.4 L-2,2.6" stroke="#111" stroke-width="0.8" fill="none" stroke-linecap="round" stroke-linejoin="round" />
<path d="M2,-3.7 L20.5,-3.7 Q23.5,0 20.5,3.7 L2,3.7Z" stroke="#111" stroke-width="1.1" fill="#fff" stroke-linecap="round" stroke-linejoin="round" />
<line x1="7.5" y1="-3.7" x2="8.6" y2="3.7" stroke="#111" stroke-width="1.15" />
<line x1="9.6" y1="-3.7" x2="10.7" y2="3.7" stroke="#111" stroke-width="1.15" />
<line x1="11.7" y1="-3.7" x2="12.799999999999999" y2="3.7" stroke="#111" stroke-width="1.15" />
<line x1="13.8" y1="-3.7" x2="14.9" y2="3.7" stroke="#111" stroke-width="1.15" />
<line x1="15.9" y1="-3.7" x2="17.0" y2="3.7" stroke="#111" stroke-width="1.15" />
<line x1="18.0" y1="-3.7" x2="19.1" y2="3.7" stroke="#111" stroke-width="1.15" />
<ellipse cx="0" cy="0" rx="4.4" ry="9.3" stroke="#111" stroke-width="1.9" fill="#fff" />
<ellipse cx="2.2" cy="0" rx="2.2" ry="3.8" stroke="#111" stroke-width="1.0" fill="#fff" />
<path d="M2.4,-3.7 L7,-3.7 M2.4,3.7 L7,3.7" stroke="#111" stroke-width="1.0" fill="none" stroke-linecap="round" stroke-linejoin="round" />
<rect x="2.6" y="-3.2" width="4.6" height="6.4" fill="#fff"/>
</g>
<line x1="652.8" y1="697.4" x2="652.8" y2="730" stroke="#111" stroke-width="1" />
<text x="643" y="689.9" font-size="16.5" text-anchor="start" fill="#000" >15</text>
<line x1="600.4" y1="797.7" x2="634" y2="797.7" stroke="#111" stroke-width="1" />
<text x="637.5" y="804.1" font-size="16.5" text-anchor="start" fill="#000" >12</text>
<path d="M33,686.6 L104.3,686.6 L104.3,773.8" stroke="#111" stroke-width="2.2" fill="none" stroke-linecap="round" stroke-linejoin="round" />
<path d="M5.6,688 L5.6,972.4 L328.4,972.4 L328.4,773.8 L138.5,773.8 M104.3,773.8 L33,773.8" stroke="#111" stroke-width="2.2" fill="none" stroke-linecap="round" stroke-linejoin="round" />
<line x1="5.6" y1="773.8" x2="33" y2="773.8" stroke="#888" stroke-width="0.8" />
<path d="M104.3,773.8 L104.3,860.5 M5.6,860.5 L138.5,860.5 M138.5,700 L138.5,972.4 M171,700 L241.8,700 L241.8,773.8" stroke="#111" stroke-width="2.2" fill="none" stroke-linecap="round" stroke-linejoin="round" />
<path d="M138.5,700 L142,700" stroke="#111" stroke-width="2.2" fill="none" stroke-linecap="round" stroke-linejoin="round" />
<text x="8.8" y="703.7" font-size="16.5" text-anchor="start" fill="#000" >24</text>
<text x="10.5" y="791.7" font-size="16.5" text-anchor="start" fill="#000" >16</text>
<text x="16.3" y="881.8" font-size="16.5" text-anchor="start" fill="#000" >17</text>
<text x="145.5" y="716" font-size="16.5" text-anchor="start" fill="#000" >26</text>
<g transform="translate(-6.8 288.5)">
<path d="M64.1,407.4 L73.6,412.2 L76.3,423.6 L68.2,437.8 L58.1,439.2 L47.7,460.3 Q46.6,465.5 50.0,468.4 L66.2,459.4 L68.5,446.6 L85.1,436.5 L88.7,437.4 L102.6,446.3 L98.5,450.0 L72.2,464.4 L52.7,474.5 Q41.2,471.5 38.5,454.7 L42.5,445.2Z" stroke="#111" stroke-width="1.7" fill="#fff" stroke-linecap="round" stroke-linejoin="round" />
<path d="M70.2,412.8 L58.1,438.8" stroke="#111" stroke-width="0.8" fill="none" stroke-linecap="round" stroke-linejoin="round" />
<path d="M67.9,416.2 L43.9,460.8 Q43.9,467.5 52.0,472.0 L72.2,462.0" stroke="#111" stroke-width="0.8" fill="none" stroke-linecap="round" stroke-linejoin="round" />
<path d="M66.2,459.8 L68.7,446.9 L85.5,436.7" stroke="#111" stroke-width="2.4" fill="none" stroke-linecap="round" stroke-linejoin="round" />
<path d="M72.5,463.9 L74.4,449.6 L88.7,441.2" stroke="#111" stroke-width="1.9" fill="none" stroke-linecap="round" stroke-linejoin="round" />
<path d="M74.4,449.6 L88.7,438.5 M88.7,441.2 L98.5,450.0" stroke="#111" stroke-width="0.8" fill="none" stroke-linecap="round" stroke-linejoin="round" />
<path d="M83.0,457.6 L84.4,460.5 L89.8,459.0 L91.1,455.5" stroke="#111" stroke-width="0.9" fill="none" stroke-linecap="round" stroke-linejoin="round" />
<ellipse cx="60.35762483130904" cy="423.64102564102564" rx="2.5" ry="2.9" stroke="#111" stroke-width="1.2" fill="#fff" />
<ellipse cx="60.657624831309036" cy="423.64102564102564" rx="1.3" ry="1.6" stroke="#111" stroke-width="0.9" fill="#fff" />
</g>
<ellipse cx="58" cy="827.2" rx="25.8" ry="15.2" stroke="#111" stroke-width="1.6" fill="#fff" />
<ellipse cx="58" cy="824.2" rx="25.8" ry="15.2" stroke="#111" stroke-width="1.6" fill="#fff" />
<path d="M38.2,805.5 L38.8,822.9000000000001 Q58,841.5 77.5,821.7 L77.8,805.5Z" stroke="#111" stroke-width="1.5" fill="#fff" stroke-linecap="round" stroke-linejoin="round" />
<path d="M38.2,805.5 A19.8,10.6 0 0 1 77.8,805.5 L70,813.9000000000001 L46,813.9000000000001Z" stroke="#111" stroke-width="1.8" fill="#fff" stroke-linecap="round" stroke-linejoin="round" />
<path d="M46,813.9000000000001 L46,828.9000000000001 M70,813.9000000000001 L70,828.9000000000001" stroke="#111" stroke-width="1.0" fill="none" stroke-linecap="round" stroke-linejoin="round" />
<ellipse cx="58" cy="803.1" rx="11.4" ry="6.6" stroke="#111" stroke-width="1.5" fill="#fff" />
<path d="M49.4,806.7 A8.6,3.2 0 0 1 66,807.0" stroke="#111" stroke-width="0.9" fill="none" stroke-linecap="round" stroke-linejoin="round" />
<path d="M51.5,808.7 A7,2.6 0 0 1 64,808.8000000000001" stroke="#555" stroke-width="0.8" fill="none" stroke-linecap="round" stroke-linejoin="round" />
<path d="M28,903.8 L61.2,884.6999999999999 L115.60000000000001,884.6999999999999 L115.60000000000001,940.4999999999999 L85.4,961.0999999999999 L28,961.0999999999999Z" stroke="#111" stroke-width="1.3" fill="#fff" stroke-linecap="round" stroke-linejoin="round" />
<path d="M28,903.8 L85.4,903.8 L115.60000000000001,884.6999999999999 M85.4,903.8 L85.4,961.0999999999999" stroke="#111" stroke-width="1.2" fill="none" stroke-linecap="round" stroke-linejoin="round" />
<text x="56.7" y="921.99" font-size="10" font-weight="bold" text-anchor="middle" textLength="49.6" lengthAdjust="spacingAndGlyphs" style="font-family:'Liberation Serif',serif" fill="#000" stroke="#000" stroke-width="0.35">VOLVO</text>
<path d="M152.9,734.3 C152.5,733.3 150.2,729.8 150.4,728.0 C150.6,726.3 151.2,724.4 154.2,723.9 C157.2,723.5 162.8,724.2 168.3,725.2 C173.8,726.2 181.5,728.1 187.2,729.9 C193.0,731.7 199.3,733.6 203.0,736.2 C206.6,738.8 208.7,742.2 209.3,745.7 C209.8,749.1 208.5,754.1 206.1,756.7 C203.8,759.3 199.0,761.7 195.1,761.4 C191.2,761.1 186.4,758.8 182.5,755.1 C178.6,751.4 173.7,744.1 171.5,739.4 C169.3,734.6 168.7,730.7 169.1,726.8 C169.5,722.8 171.4,718.1 173.8,715.7 C176.3,713.4 179.2,712.1 184.1,712.6 C188.9,713.1 197.2,716.0 203.0,718.9 C208.7,721.8 214.5,726.2 218.7,729.9 C223.0,733.6 226.8,739.4 228.5,741.2" stroke="#111" stroke-width="4.0" fill="none" stroke-linecap="round" stroke-linejoin="round" />
<path d="M152.9,734.3 C152.5,733.3 150.2,729.8 150.4,728.0 C150.6,726.3 151.2,724.4 154.2,723.9 C157.2,723.5 162.8,724.2 168.3,725.2 C173.8,726.2 181.5,728.1 187.2,729.9 C193.0,731.7 199.3,733.6 203.0,736.2 C206.6,738.8 208.7,742.2 209.3,745.7 C209.8,749.1 208.5,754.1 206.1,756.7 C203.8,759.3 199.0,761.7 195.1,761.4 C191.2,761.1 186.4,758.8 182.5,755.1 C178.6,751.4 173.7,744.1 171.5,739.4 C169.3,734.6 168.7,730.7 169.1,726.8 C169.5,722.8 171.4,718.1 173.8,715.7 C176.3,713.4 179.2,712.1 184.1,712.6 C188.9,713.1 197.2,716.0 203.0,718.9 C208.7,721.8 214.5,726.2 218.7,729.9 C223.0,733.6 226.8,739.4 228.5,741.2" stroke="#fff" stroke-width="1.6" fill="none" stroke-linecap="round" stroke-linejoin="round" />
<path d="M150.2,736.5 L156.5,733.1 L163.6,736.5 L163.6,740.1 L157.3,743.6 L150.2,740.1Z" stroke="#111" stroke-width="1.5" fill="#fff" stroke-linecap="round" stroke-linejoin="round" />
<path d="M150.2,736.5 L157.3,740.0 L157.3,743.6M157.3,740.0 L163.6,736.5" stroke="#111" stroke-width="0.9" fill="none" stroke-linecap="round" stroke-linejoin="round" />
<path d="M225.0,742.8 L231.3,739.4 L238.4,742.8 L238.4,746.8 L232.1,750.4 L225.0,746.8Z" stroke="#111" stroke-width="1.5" fill="#fff" stroke-linecap="round" stroke-linejoin="round" />
<path d="M225.0,742.8 L232.1,746.4 L232.1,750.4M232.1,746.4 L238.4,742.8" stroke="#111" stroke-width="0.9" fill="none" stroke-linecap="round" stroke-linejoin="round" />
<path d="M181,804 C185,795 192,793 202,794 L254,796.8" stroke="#111" stroke-width="7.0" fill="none" stroke-linecap="round" stroke-linejoin="round" />
<path d="M181,804 C185,795 192,793 202,794 L254,796.8" stroke="#fff" stroke-width="4.6" fill="none" stroke-linecap="round" stroke-linejoin="round" />
<path d="M254,795 C260,793 264,790.5 268,789.5 M254,799 C260,800 264,800 268,799.5" stroke="#111" stroke-width="0.9" fill="none" stroke-linecap="round" stroke-linejoin="round" />
<g transform="translate(267 789.8) rotate(-10)">
<path d="M0,0 L5,0" stroke="#111" stroke-width="1.0" fill="none" stroke-linecap="round" stroke-linejoin="round" />
<path d="M4,-1.8 L9,-2.2 L9,2.2 L4,1.8Z" stroke="#111" stroke-width="0.9" fill="#444" stroke-linecap="round" stroke-linejoin="round" />
<path d="M9,-1.2 L13,-1.2 L13,1.2 L9,1.2Z" stroke="#111" stroke-width="0.8" fill="#fff" stroke-linecap="round" stroke-linejoin="round" />
<path d="M13,-2 L32,-1.5 L32,1.5 L13,2Z" stroke="#111" stroke-width="0.9" fill="#fff" stroke-linecap="round" stroke-linejoin="round" />
</g>
<g transform="translate(267 799.8) rotate(-3)">
<path d="M0,0 L5,0" stroke="#111" stroke-width="1.0" fill="none" stroke-linecap="round" stroke-linejoin="round" />
<path d="M4,-1.8 L9,-2.2 L9,2.2 L4,1.8Z" stroke="#111" stroke-width="0.9" fill="#444" stroke-linecap="round" stroke-linejoin="round" />
<path d="M9,-1.2 L13,-1.2 L13,1.2 L9,1.2Z" stroke="#111" stroke-width="0.8" fill="#fff" stroke-linecap="round" stroke-linejoin="round" />
<path d="M13,-2 L32,-1.5 L32,1.5 L13,2Z" stroke="#111" stroke-width="0.9" fill="#fff" stroke-linecap="round" stroke-linejoin="round" />
</g>
<path d="M164.6,803 L176,797 L186.5,801 L186.5,810 L175,816 L164.6,812Z" stroke="#111" stroke-width="1.5" fill="#fff" stroke-linecap="round" stroke-linejoin="round" />
<path d="M164.6,803 L175,807 L175,816 M175,807 L186.5,801 M171,799.5 L171,803 L178,800" stroke="#111" stroke-width="1.0" fill="none" stroke-linecap="round" stroke-linejoin="round" />
<line x1="227.6" y1="800.5" x2="227.6" y2="811" stroke="#111" stroke-width="0.9" />
<text x="145" y="795" font-size="16.5" text-anchor="start" fill="#000" >18</text>
<text x="190.3" y="830.8" font-size="16.5" text-anchor="start" fill="#000" >19</text>
<text x="218.8" y="830.8" font-size="16.5" text-anchor="start" fill="#000" >20</text>
<line x1="196.1" y1="838" x2="196.1" y2="852" stroke="#111" stroke-width="0.9" />
<path d="M161,867 C169,858 183,854.5 196,853" stroke="#111" stroke-width="8.4" fill="none" stroke-linecap="round" stroke-linejoin="round" />
<path d="M161,867 C169,858 183,854.5 196,853" stroke="#fff" stroke-width="6.0" fill="none" stroke-linecap="round" stroke-linejoin="round" />
<path d="M196,855.5 C205,857 214,868 226,871 C244,874 258,866 274,861.5" stroke="#111" stroke-width="5.6" fill="none" stroke-linecap="round" stroke-linejoin="round" />
<path d="M196,855.5 C205,857 214,868 226,871 C244,874 258,866 274,861.5" stroke="#fff" stroke-width="3.1999999999999997" fill="none" stroke-linecap="round" stroke-linejoin="round" />
<path d="M196,853.5 C214,850 232,846 252,842" stroke="#111" stroke-width="4.6" fill="none" stroke-linecap="round" stroke-linejoin="round" />
<path d="M196,853.5 C214,850 232,846 252,842" stroke="#fff" stroke-width="2.1999999999999997" fill="none" stroke-linecap="round" stroke-linejoin="round" />
<path d="M196,851 C214,844 234,836 257,831" stroke="#111" stroke-width="4.6" fill="none" stroke-linecap="round" stroke-linejoin="round" />
<path d="M196,851 C214,844 234,836 257,831" stroke="#fff" stroke-width="2.1999999999999997" fill="none" stroke-linecap="round" stroke-linejoin="round" />
<path d="M257,831 C263,829 268,828.5 271,825 C274,822 275,819 274.5,816" stroke="#111" stroke-width="1.4" fill="none" stroke-linecap="round" stroke-linejoin="round" />
<ellipse cx="274.3" cy="814.6" rx="1.8" ry="2.2" stroke="#111" stroke-width="1.3" fill="#555" />
<path d="M252,842 L266,840" stroke="#111" stroke-width="0.9" fill="none" stroke-linecap="round" stroke-linejoin="round" />
<g transform="translate(265 840.3) rotate(-10)">
<path d="M0,0 L5,0" stroke="#111" stroke-width="1.0" fill="none" stroke-linecap="round" stroke-linejoin="round" />
<path d="M4,-1.8 L9,-2.2 L9,2.2 L4,1.8Z" stroke="#111" stroke-width="0.9" fill="#444" stroke-linecap="round" stroke-linejoin="round" />
<path d="M9,-1.2 L13,-1.2 L13,1.2 L9,1.2Z" stroke="#111" stroke-width="0.8" fill="#fff" stroke-linecap="round" stroke-linejoin="round" />
<path d="M13,-2 L31,-1.5 L31,1.5 L13,2Z" stroke="#111" stroke-width="0.9" fill="#fff" stroke-linecap="round" stroke-linejoin="round" />
</g>
<path d="M274,860.5 L291,860.5 M274,863 L291,866.5" stroke="#111" stroke-width="0.9" fill="none" stroke-linecap="round" stroke-linejoin="round" />
<g transform="translate(289 860.6) rotate(-2)">
<path d="M0,0 L5,0" stroke="#111" stroke-width="1.0" fill="none" stroke-linecap="round" stroke-linejoin="round" />
<path d="M4,-1.8 L9,-2.2 L9,2.2 L4,1.8Z" stroke="#111" stroke-width="0.9" fill="#444" stroke-linecap="round" stroke-linejoin="round" />
<path d="M9,-1.2 L13,-1.2 L13,1.2 L9,1.2Z" stroke="#111" stroke-width="0.8" fill="#fff" stroke-linecap="round" stroke-linejoin="round" />
<path d="M13,-2 L26,-1.5 L26,1.5 L13,2Z" stroke="#111" stroke-width="0.9" fill="#fff" stroke-linecap="round" stroke-linejoin="round" />
</g>
<g transform="translate(289 866.7) rotate(-2)">
<path d="M0,0 L5,0" stroke="#111" stroke-width="1.0" fill="none" stroke-linecap="round" stroke-linejoin="round" />
<path d="M4,-1.8 L9,-2.2 L9,2.2 L4,1.8Z" stroke="#111" stroke-width="0.9" fill="#444" stroke-linecap="round" stroke-linejoin="round" />
<path d="M9,-1.2 L13,-1.2 L13,1.2 L9,1.2Z" stroke="#111" stroke-width="0.8" fill="#fff" stroke-linecap="round" stroke-linejoin="round" />
<path d="M13,-2 L26,-1.5 L26,1.5 L13,2Z" stroke="#111" stroke-width="0.9" fill="#fff" stroke-linecap="round" stroke-linejoin="round" />
</g>
<path d="M145.7,868 L156,862 L164.6,866 L164.6,875 L154,880.5 L145.7,876.5Z" stroke="#111" stroke-width="1.5" fill="#fff" stroke-linecap="round" stroke-linejoin="round" />
<path d="M145.7,868 L154,872 L154,880.5 M154,872 L164.6,866 M156,863 L157.5,868 L162,866" stroke="#111" stroke-width="1.0" fill="none" stroke-linecap="round" stroke-linejoin="round" />
<text x="169" y="893" font-size="16.5" text-anchor="start" fill="#000" >22</text>
<line x1="175.4" y1="900.6" x2="175.4" y2="916.5" stroke="#111" stroke-width="0.9" />
<path d="M189.4,908.7 L209.8,919.7 L209.8,951.5 L188.1,963 L169,951.5 L169,919.7Z" stroke="#111" stroke-width="2.2" fill="#fff" stroke-linecap="round" stroke-linejoin="round" />
<path d="M169,919.7 L188.1,932.4 L209.8,919.7 M188.1,932.4 L188.1,963" stroke="#111" stroke-width="1.0" fill="none" stroke-linecap="round" stroke-linejoin="round" />
<path d="M175,956 L175,961 L178.5,963 L178.5,958 M192,962 L192,967 L196,965 L196,960 M201,957 L201,961.5 L204.5,959.5 L204.5,955" stroke="#111" stroke-width="1.3" fill="none" stroke-linecap="round" stroke-linejoin="round" />
<text x="245.5" y="906.6" font-size="16.5" text-anchor="start" fill="#000" >23</text>
<line x1="253.7" y1="912" x2="253.7" y2="926" stroke="#111" stroke-width="0.9" />
<path d="M249.8,929.9 L260.8,923.5 L263.3,924.8 L263.3,940 L268.4,943.9 L282.4,936.3 L285,937.5 L285,946.5 L271,956.6 L267,955.4 L250.6,945.2Z" stroke="#111" stroke-width="1.6" fill="#fff" stroke-linecap="round" stroke-linejoin="round" />
<path d="M249.8,929.9 L252.5,931.3 L263.3,924.8 M252.5,931.3 L252.8,945 M268.4,943.9 L271.3,945.5 L285,937.5 M271.3,945.5 L271,956.6" stroke="#111" stroke-width="0.9" fill="none" stroke-linecap="round" stroke-linejoin="round" />
<line x1="269.2" y1="944.5" x2="269.2" y2="955.8" stroke="#111" stroke-width="2.4" />
<text x="286.3" y="930.2" font-size="16.5" text-anchor="start" fill="#000" >21</text>
<line x1="295.3" y1="901" x2="295.3" y2="912" stroke="#111" stroke-width="0.9" />
<g transform="translate(281 898.2) rotate(4)">
<path d="M0,0 L5,0" stroke="#111" stroke-width="1.0" fill="none" stroke-linecap="round" stroke-linejoin="round" />
<path d="M4,-1.8 L9,-2.2 L9,2.2 L4,1.8Z" stroke="#111" stroke-width="0.9" fill="#444" stroke-linecap="round" stroke-linejoin="round" />
<path d="M9,-1.2 L13,-1.2 L13,1.2 L9,1.2Z" stroke="#111" stroke-width="0.8" fill="#fff" stroke-linecap="round" stroke-linejoin="round" />
<path d="M13,-2 L28,-1.5 L28,1.5 L13,2Z" stroke="#111" stroke-width="0.9" fill="#fff" stroke-linecap="round" stroke-linejoin="round" />
</g>
<text x="592.3" y="935.6" font-size="14" font-weight="bold" text-anchor="middle" textLength="72.6" lengthAdjust="spacingAndGlyphs" style="font-family:'Liberation Serif',serif" fill="#000" stroke="#000" stroke-width="0.4">VOLVO</text>
<text x="590" y="948.4" font-size="9.8" text-anchor="middle" fill="#000" >GenuineParts</text>
<text x="592.4" y="964.6" font-size="12.95" text-anchor="middle" fill="#000" >6478540d</text>
<!--BOTTOM-->
<!--LABELS-->
</svg>
<div id="bar"><span style="left:199px">volvo - 8683920</span><span style="left:415px;letter-spacing:-0.6px">N - 5</span></div>
<!--WM-->
<svg id="wm" width="667" height="1043" viewBox="0 0 667 1043">
<text x="-4.9" y="29.8" font-size="16" fill="rgb(145,145,145)" fill-opacity="0.65" transform="rotate(-15.3 -4.9 29.8)">PartsIndex</text>
<text x="418.4" y="30" font-size="16" fill="rgb(145,145,145)" fill-opacity="0.65" transform="rotate(-15.3 418.4 30)">PartsIndex</text>
<text x="-4.9" y="506.8" font-size="16" fill="rgb(145,145,145)" fill-opacity="0.65" transform="rotate(-15.3 -4.9 506.8)">PartsIndex</text>
<text x="418.4" y="506.8" font-size="16" fill="rgb(145,145,145)" fill-opacity="0.65" transform="rotate(-15.3 418.4 506.8)">PartsIndex</text>
<text x="-4.9" y="983.6" font-size="16" fill="rgb(145,145,145)" fill-opacity="0.65" transform="rotate(-15.3 -4.9 983.6)">PartsIndex</text>
<text x="418.4" y="983.6" font-size="16" fill="rgb(145,145,145)" fill-opacity="0.65" transform="rotate(-15.3 418.4 983.6)">PartsIndex</text>
</svg>
<!--/WM-->
</body></html>
